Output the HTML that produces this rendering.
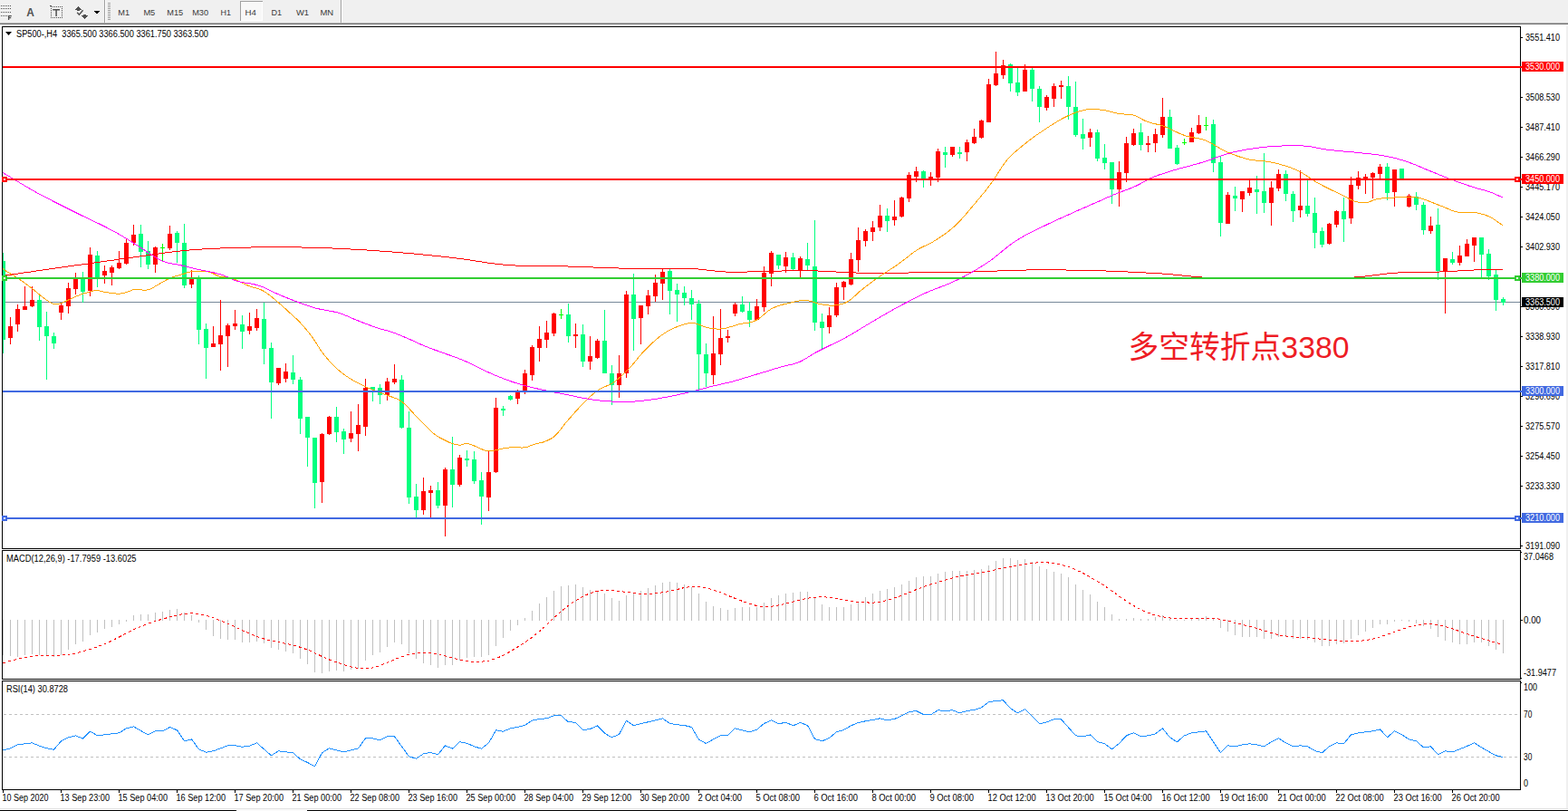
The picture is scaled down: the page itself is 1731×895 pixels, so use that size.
<!DOCTYPE html><html><head><meta charset="utf-8"><title>SP500 H4</title><style>html,body{margin:0;padding:0}body{width:1731px;height:895px;overflow:hidden;background:#fff}svg{display:block}text{font-family:"Liberation Sans",sans-serif}</style></head><body>
<svg width="1731" height="895" viewBox="0 0 1731 895" shape-rendering="crispEdges">
<rect x="0" y="0" width="1731" height="895" fill="#ffffff"/>
<rect x="0" y="0" width="1731" height="29" fill="#f0f0f0"/>
<rect x="0" y="25" width="1731" height="1" fill="#b0b0b0"/>
<rect x="0" y="26" width="1731" height="1" fill="#707070"/>
<rect x="0" y="27" width="1731" height="2" fill="#ffffff"/>
<rect x="1729" y="29" width="2" height="866" fill="#f0f0f0"/>
<rect x="0" y="892" width="1731" height="1" fill="#e3e3e3"/>
<rect x="0" y="893" width="1731" height="2" fill="#fafafa"/>
<rect x="0" y="894" width="261" height="1" fill="#000"/>
<rect x="339" y="894" width="1392" height="1" fill="#000"/>
<rect x="1" y="6" width="1" height="1" fill="#505050"/>
<rect x="3" y="6" width="1" height="1" fill="#505050"/>
<rect x="5" y="6" width="1" height="1" fill="#505050"/>
<rect x="7" y="6" width="1" height="1" fill="#505050"/>
<rect x="9" y="6" width="1" height="1" fill="#505050"/>
<rect x="11" y="6" width="1" height="1" fill="#505050"/>
<rect x="1" y="9" width="1" height="1" fill="#505050"/>
<rect x="3" y="9" width="1" height="1" fill="#505050"/>
<rect x="5" y="9" width="1" height="1" fill="#505050"/>
<rect x="7" y="9" width="1" height="1" fill="#505050"/>
<rect x="9" y="9" width="1" height="1" fill="#505050"/>
<rect x="11" y="9" width="1" height="1" fill="#505050"/>
<rect x="1" y="13" width="1" height="1" fill="#505050"/>
<rect x="3" y="13" width="1" height="1" fill="#505050"/>
<rect x="5" y="13" width="1" height="1" fill="#505050"/>
<rect x="7" y="13" width="1" height="1" fill="#505050"/>
<rect x="9" y="13" width="1" height="1" fill="#505050"/>
<rect x="11" y="13" width="1" height="1" fill="#505050"/>
<rect x="1" y="17" width="1" height="1" fill="#505050"/>
<rect x="3" y="17" width="1" height="1" fill="#505050"/>
<rect x="5" y="17" width="1" height="1" fill="#505050"/>
<rect x="7" y="17" width="1" height="1" fill="#505050"/>
<path d="M9.6,17.6 H12.8 M9.6,19.6 H12.2 M9.6,17 V22" stroke="#505050" stroke-width="1.3" fill="none" shape-rendering="geometricPrecision"/>
<text x="29.3" y="18" font-size="12.5" font-weight="bold" fill="#505050" textLength="8.6" lengthAdjust="spacingAndGlyphs">A</text>
<rect x="56" y="7" width="1" height="1" fill="#505050"/>
<rect x="56" y="19" width="1" height="1" fill="#505050"/>
<rect x="58" y="7" width="1" height="1" fill="#505050"/>
<rect x="58" y="19" width="1" height="1" fill="#505050"/>
<rect x="60" y="7" width="1" height="1" fill="#505050"/>
<rect x="60" y="19" width="1" height="1" fill="#505050"/>
<rect x="62" y="7" width="1" height="1" fill="#505050"/>
<rect x="62" y="19" width="1" height="1" fill="#505050"/>
<rect x="64" y="7" width="1" height="1" fill="#505050"/>
<rect x="64" y="19" width="1" height="1" fill="#505050"/>
<rect x="66" y="7" width="1" height="1" fill="#505050"/>
<rect x="66" y="19" width="1" height="1" fill="#505050"/>
<rect x="68" y="7" width="1" height="1" fill="#505050"/>
<rect x="68" y="19" width="1" height="1" fill="#505050"/>
<rect x="56" y="7" width="1" height="1" fill="#505050"/>
<rect x="68" y="7" width="1" height="1" fill="#505050"/>
<rect x="56" y="9" width="1" height="1" fill="#505050"/>
<rect x="68" y="9" width="1" height="1" fill="#505050"/>
<rect x="56" y="11" width="1" height="1" fill="#505050"/>
<rect x="68" y="11" width="1" height="1" fill="#505050"/>
<rect x="56" y="13" width="1" height="1" fill="#505050"/>
<rect x="68" y="13" width="1" height="1" fill="#505050"/>
<rect x="56" y="15" width="1" height="1" fill="#505050"/>
<rect x="68" y="15" width="1" height="1" fill="#505050"/>
<rect x="56" y="17" width="1" height="1" fill="#505050"/>
<rect x="68" y="17" width="1" height="1" fill="#505050"/>
<rect x="56" y="19" width="1" height="1" fill="#505050"/>
<rect x="68" y="19" width="1" height="1" fill="#505050"/>
<rect x="55" y="6" width="2" height="1" fill="#505050"/>
<path d="M58.2,10.8 H66 M62.1,10.8 V18" stroke="#505050" stroke-width="1.5" fill="none" shape-rendering="geometricPrecision"/>
<rect x="86" y="7" width="1" height="1" fill="#505050"/>
<rect x="85" y="8" width="3" height="1" fill="#505050"/>
<rect x="84" y="9" width="5" height="1" fill="#505050"/>
<rect x="83" y="10" width="7" height="1" fill="#505050"/>
<rect x="85" y="11" width="3" height="1" fill="#505050"/>
<rect x="92" y="16" width="3" height="1" fill="#505050"/>
<rect x="90" y="17" width="7" height="1" fill="#505050"/>
<rect x="91" y="18" width="5" height="1" fill="#505050"/>
<rect x="92" y="19" width="3" height="1" fill="#505050"/>
<rect x="93" y="20" width="1" height="1" fill="#505050"/>
<path d="M85.2,13.8 L87.4,16.2 L91.6,11.2" stroke="#505050" stroke-width="1.5" fill="none" shape-rendering="geometricPrecision"/>
<rect x="104" y="12" width="6" height="1" fill="#000"/>
<rect x="105" y="13" width="4" height="1" fill="#000"/>
<rect x="106" y="14" width="2" height="1" fill="#000"/>
<rect x="115" y="0" width="1" height="25" fill="#a0a0a0"/>
<rect x="116" y="0" width="1" height="25" fill="#fff"/>
<rect x="119" y="3" width="3" height="1" fill="#a0a0a0"/>
<rect x="119" y="5" width="3" height="1" fill="#a0a0a0"/>
<rect x="119" y="7" width="3" height="1" fill="#a0a0a0"/>
<rect x="119" y="9" width="3" height="1" fill="#a0a0a0"/>
<rect x="119" y="11" width="3" height="1" fill="#a0a0a0"/>
<rect x="119" y="13" width="3" height="1" fill="#a0a0a0"/>
<rect x="119" y="15" width="3" height="1" fill="#a0a0a0"/>
<rect x="119" y="17" width="3" height="1" fill="#a0a0a0"/>
<rect x="119" y="19" width="3" height="1" fill="#a0a0a0"/>
<rect x="119" y="21" width="3" height="1" fill="#a0a0a0"/>
<rect x="376" y="0" width="1" height="25" fill="#a0a0a0"/>
<rect x="377" y="0" width="1" height="25" fill="#fff"/>
<rect x="265" y="1" width="25" height="22" fill="#f8f8f8"/>
<rect x="265" y="1" width="25" height="1" fill="#a0a0a0"/>
<rect x="265" y="1" width="1" height="22" fill="#a0a0a0"/>
<rect x="289" y="2" width="1" height="21" fill="#fff"/>
<rect x="266" y="22" width="24" height="1" fill="#fff"/>
<text x="130.3" y="17" font-size="9.8" fill="#3a3a3a" textLength="12.8" lengthAdjust="spacingAndGlyphs">M1</text>
<text x="158.4" y="17" font-size="9.8" fill="#3a3a3a" textLength="12.9" lengthAdjust="spacingAndGlyphs">M5</text>
<text x="184.3" y="17" font-size="9.8" fill="#3a3a3a" textLength="17.9" lengthAdjust="spacingAndGlyphs">M15</text>
<text x="212.2" y="17" font-size="9.8" fill="#3a3a3a" textLength="17.9" lengthAdjust="spacingAndGlyphs">M30</text>
<text x="243.5" y="17" font-size="9.8" fill="#3a3a3a" textLength="11.4" lengthAdjust="spacingAndGlyphs">H1</text>
<text x="270.4" y="17" font-size="9.8" fill="#3a3a3a" textLength="12.4" lengthAdjust="spacingAndGlyphs">H4</text>
<text x="299.5" y="17" font-size="9.8" fill="#3a3a3a" textLength="11.6" lengthAdjust="spacingAndGlyphs">D1</text>
<text x="327" y="17" font-size="9.8" fill="#3a3a3a" textLength="14.1" lengthAdjust="spacingAndGlyphs">W1</text>
<text x="353.5" y="17" font-size="9.8" fill="#3a3a3a" textLength="14.7" lengthAdjust="spacingAndGlyphs">MN</text>
<rect x="2" y="29" width="1677" height="1" fill="#000"/>
<rect x="2" y="29" width="1" height="843" fill="#000"/>
<rect x="1678" y="29" width="1" height="843" fill="#000"/>
<rect x="2" y="871" width="1677" height="1" fill="#000"/>
<rect x="2" y="605" width="1677" height="1" fill="#000"/>
<rect x="2" y="607" width="1677" height="1" fill="#000"/>
<rect x="2" y="749" width="1677" height="1" fill="#000"/>
<rect x="2" y="751" width="1677" height="1" fill="#000"/>
<rect x="2" y="606" width="1" height="1" fill="#fff"/>
<rect x="1678" y="606" width="1" height="1" fill="#fff"/>
<rect x="2" y="750" width="1" height="1" fill="#fff"/>
<rect x="1678" y="750" width="1" height="1" fill="#fff"/>
<defs><clipPath id="cm"><rect x="3" y="30" width="1675" height="575"/></clipPath><clipPath id="c2"><rect x="3" y="608" width="1675" height="141"/></clipPath><clipPath id="c3"><rect x="3" y="752" width="1675" height="119"/></clipPath></defs>
<g clip-path="url(#cm)">
<rect x="3" y="333" width="1676" height="1" fill="#778899"/>
<rect x="3" y="279" width="1" height="111" fill="#00ff7f"/>
<rect x="1" y="288" width="5" height="87" fill="#00ff7f"/>
<rect x="11" y="350" width="1" height="30" fill="#ff0000"/>
<rect x="9" y="360" width="5" height="13" fill="#ff0000"/>
<rect x="19" y="336" width="1" height="30" fill="#ff0000"/>
<rect x="17" y="341" width="5" height="17" fill="#ff0000"/>
<rect x="27" y="316" width="1" height="26" fill="#ff0000"/>
<rect x="25" y="338" width="5" height="4" fill="#ff0000"/>
<rect x="35" y="316" width="1" height="23" fill="#ff0000"/>
<rect x="33" y="331" width="5" height="7" fill="#ff0000"/>
<rect x="43" y="326" width="1" height="50" fill="#00ff7f"/>
<rect x="41" y="331" width="5" height="30" fill="#00ff7f"/>
<rect x="51" y="344" width="1" height="75" fill="#00ff7f"/>
<rect x="49" y="360" width="5" height="11" fill="#00ff7f"/>
<rect x="59" y="367" width="1" height="18" fill="#00ff7f"/>
<rect x="57" y="371" width="5" height="8" fill="#00ff7f"/>
<rect x="67" y="335" width="1" height="18" fill="#ff0000"/>
<rect x="65" y="337" width="5" height="8" fill="#ff0000"/>
<rect x="75" y="312" width="1" height="34" fill="#ff0000"/>
<rect x="73" y="318" width="5" height="20" fill="#ff0000"/>
<rect x="83" y="301" width="1" height="24" fill="#ff0000"/>
<rect x="81" y="308" width="5" height="11" fill="#ff0000"/>
<rect x="91" y="300" width="1" height="34" fill="#00ff7f"/>
<rect x="89" y="307" width="5" height="15" fill="#00ff7f"/>
<rect x="99" y="273" width="1" height="54" fill="#ff0000"/>
<rect x="97" y="281" width="5" height="40" fill="#ff0000"/>
<rect x="107" y="277" width="1" height="40" fill="#00ff7f"/>
<rect x="105" y="282" width="5" height="25" fill="#00ff7f"/>
<rect x="115" y="293" width="1" height="20" fill="#ff0000"/>
<rect x="113" y="299" width="5" height="5" fill="#ff0000"/>
<rect x="123" y="293" width="1" height="22" fill="#ff0000"/>
<rect x="121" y="295" width="5" height="6" fill="#ff0000"/>
<rect x="131" y="277" width="1" height="20" fill="#ff0000"/>
<rect x="129" y="290" width="5" height="6" fill="#ff0000"/>
<rect x="139" y="263" width="1" height="29" fill="#ff0000"/>
<rect x="137" y="268" width="5" height="23" fill="#ff0000"/>
<rect x="147" y="248" width="1" height="23" fill="#ff0000"/>
<rect x="145" y="259" width="5" height="9" fill="#ff0000"/>
<rect x="155" y="248" width="1" height="47" fill="#00ff7f"/>
<rect x="153" y="258" width="5" height="20" fill="#00ff7f"/>
<rect x="163" y="266" width="1" height="31" fill="#00ff7f"/>
<rect x="161" y="277" width="5" height="15" fill="#00ff7f"/>
<rect x="171" y="272" width="1" height="29" fill="#ff0000"/>
<rect x="169" y="273" width="5" height="19" fill="#ff0000"/>
<rect x="179" y="269" width="1" height="20" fill="#00ff00"/>
<rect x="177" y="273" width="5" height="1" fill="#00ff00"/>
<rect x="187" y="249" width="1" height="27" fill="#ff0000"/>
<rect x="185" y="258" width="5" height="16" fill="#ff0000"/>
<rect x="195" y="255" width="1" height="35" fill="#00ff7f"/>
<rect x="193" y="257" width="5" height="11" fill="#00ff7f"/>
<rect x="203" y="247" width="1" height="71" fill="#00ff7f"/>
<rect x="201" y="268" width="5" height="47" fill="#00ff7f"/>
<rect x="211" y="298" width="1" height="20" fill="#ff0000"/>
<rect x="209" y="308" width="5" height="6" fill="#ff0000"/>
<rect x="219" y="304" width="1" height="76" fill="#00ff7f"/>
<rect x="217" y="306" width="5" height="58" fill="#00ff7f"/>
<rect x="227" y="357" width="1" height="61" fill="#00ff7f"/>
<rect x="225" y="363" width="5" height="21" fill="#00ff7f"/>
<rect x="235" y="360" width="1" height="23" fill="#ff0000"/>
<rect x="233" y="379" width="5" height="4" fill="#ff0000"/>
<rect x="243" y="331" width="1" height="78" fill="#ff0000"/>
<rect x="241" y="370" width="5" height="10" fill="#ff0000"/>
<rect x="251" y="357" width="1" height="48" fill="#ff0000"/>
<rect x="249" y="359" width="5" height="12" fill="#ff0000"/>
<rect x="259" y="342" width="1" height="22" fill="#ff0000"/>
<rect x="257" y="357" width="5" height="3" fill="#ff0000"/>
<rect x="267" y="348" width="1" height="37" fill="#00ff7f"/>
<rect x="265" y="358" width="5" height="8" fill="#00ff7f"/>
<rect x="275" y="345" width="1" height="24" fill="#ff0000"/>
<rect x="273" y="360" width="5" height="5" fill="#ff0000"/>
<rect x="283" y="341" width="1" height="24" fill="#ff0000"/>
<rect x="281" y="351" width="5" height="11" fill="#ff0000"/>
<rect x="291" y="334" width="1" height="68" fill="#00ff7f"/>
<rect x="289" y="352" width="5" height="33" fill="#00ff7f"/>
<rect x="299" y="378" width="1" height="84" fill="#00ff7f"/>
<rect x="297" y="384" width="5" height="38" fill="#00ff7f"/>
<rect x="307" y="406" width="1" height="19" fill="#ff0000"/>
<rect x="305" y="406" width="5" height="17" fill="#ff0000"/>
<rect x="315" y="401" width="1" height="21" fill="#ff0000"/>
<rect x="313" y="410" width="5" height="8" fill="#ff0000"/>
<rect x="323" y="392" width="1" height="32" fill="#00ff7f"/>
<rect x="321" y="411" width="5" height="8" fill="#00ff7f"/>
<rect x="331" y="416" width="1" height="63" fill="#00ff7f"/>
<rect x="329" y="419" width="5" height="43" fill="#00ff7f"/>
<rect x="339" y="460" width="1" height="55" fill="#00ff7f"/>
<rect x="337" y="460" width="5" height="23" fill="#00ff7f"/>
<rect x="347" y="483" width="1" height="78" fill="#00ff7f"/>
<rect x="345" y="483" width="5" height="50" fill="#00ff7f"/>
<rect x="355" y="478" width="1" height="77" fill="#ff0000"/>
<rect x="353" y="479" width="5" height="53" fill="#ff0000"/>
<rect x="363" y="459" width="1" height="21" fill="#ff0000"/>
<rect x="361" y="460" width="5" height="19" fill="#ff0000"/>
<rect x="371" y="449" width="1" height="39" fill="#00ff7f"/>
<rect x="369" y="460" width="5" height="17" fill="#00ff7f"/>
<rect x="379" y="473" width="1" height="28" fill="#00ff7f"/>
<rect x="377" y="476" width="5" height="9" fill="#00ff7f"/>
<rect x="387" y="454" width="1" height="34" fill="#ff0000"/>
<rect x="385" y="478" width="5" height="6" fill="#ff0000"/>
<rect x="395" y="446" width="1" height="52" fill="#ff0000"/>
<rect x="393" y="469" width="5" height="10" fill="#ff0000"/>
<rect x="403" y="418" width="1" height="63" fill="#ff0000"/>
<rect x="401" y="428" width="5" height="43" fill="#ff0000"/>
<rect x="411" y="427" width="1" height="16" fill="#00ff7f"/>
<rect x="409" y="427" width="5" height="3" fill="#00ff7f"/>
<rect x="419" y="424" width="1" height="22" fill="#00ff7f"/>
<rect x="417" y="428" width="5" height="8" fill="#00ff7f"/>
<rect x="427" y="417" width="1" height="25" fill="#ff0000"/>
<rect x="425" y="421" width="5" height="15" fill="#ff0000"/>
<rect x="435" y="402" width="1" height="22" fill="#ff0000"/>
<rect x="433" y="418" width="5" height="4" fill="#ff0000"/>
<rect x="443" y="414" width="1" height="59" fill="#00ff7f"/>
<rect x="441" y="419" width="5" height="53" fill="#00ff7f"/>
<rect x="451" y="454" width="1" height="102" fill="#00ff7f"/>
<rect x="449" y="472" width="5" height="77" fill="#00ff7f"/>
<rect x="459" y="534" width="1" height="37" fill="#00ff7f"/>
<rect x="457" y="548" width="5" height="15" fill="#00ff7f"/>
<rect x="467" y="527" width="1" height="41" fill="#ff0000"/>
<rect x="465" y="542" width="5" height="21" fill="#ff0000"/>
<rect x="475" y="536" width="1" height="35" fill="#ff0000"/>
<rect x="473" y="541" width="5" height="3" fill="#ff0000"/>
<rect x="483" y="532" width="1" height="29" fill="#00ff7f"/>
<rect x="481" y="541" width="5" height="17" fill="#00ff7f"/>
<rect x="491" y="516" width="1" height="76" fill="#ff0000"/>
<rect x="489" y="518" width="5" height="40" fill="#ff0000"/>
<rect x="499" y="482" width="1" height="78" fill="#00ff7f"/>
<rect x="497" y="518" width="5" height="17" fill="#00ff7f"/>
<rect x="507" y="502" width="1" height="35" fill="#ff0000"/>
<rect x="505" y="505" width="5" height="30" fill="#ff0000"/>
<rect x="515" y="497" width="1" height="18" fill="#00ff7f"/>
<rect x="513" y="506" width="5" height="2" fill="#00ff7f"/>
<rect x="523" y="498" width="1" height="36" fill="#00ff7f"/>
<rect x="521" y="507" width="5" height="24" fill="#00ff7f"/>
<rect x="531" y="521" width="1" height="58" fill="#00ff7f"/>
<rect x="529" y="530" width="5" height="18" fill="#00ff7f"/>
<rect x="539" y="497" width="1" height="67" fill="#ff0000"/>
<rect x="537" y="521" width="5" height="28" fill="#ff0000"/>
<rect x="547" y="439" width="1" height="83" fill="#ff0000"/>
<rect x="545" y="450" width="5" height="71" fill="#ff0000"/>
<rect x="555" y="448" width="1" height="11" fill="#00ff7f"/>
<rect x="553" y="451" width="5" height="2" fill="#00ff7f"/>
<rect x="563" y="436" width="1" height="6" fill="#00ff7f"/>
<rect x="561" y="437" width="5" height="4" fill="#00ff7f"/>
<rect x="571" y="430" width="1" height="16" fill="#ff0000"/>
<rect x="569" y="432" width="5" height="8" fill="#ff0000"/>
<rect x="579" y="408" width="1" height="27" fill="#ff0000"/>
<rect x="577" y="412" width="5" height="20" fill="#ff0000"/>
<rect x="587" y="381" width="1" height="39" fill="#ff0000"/>
<rect x="585" y="383" width="5" height="31" fill="#ff0000"/>
<rect x="595" y="360" width="1" height="39" fill="#ff0000"/>
<rect x="593" y="374" width="5" height="10" fill="#ff0000"/>
<rect x="603" y="354" width="1" height="30" fill="#ff0000"/>
<rect x="601" y="367" width="5" height="8" fill="#ff0000"/>
<rect x="611" y="345" width="1" height="26" fill="#ff0000"/>
<rect x="609" y="346" width="5" height="22" fill="#ff0000"/>
<rect x="619" y="341" width="1" height="11" fill="#00ff00"/>
<rect x="617" y="347" width="5" height="1" fill="#00ff00"/>
<rect x="627" y="335" width="1" height="43" fill="#00ff7f"/>
<rect x="625" y="347" width="5" height="24" fill="#00ff7f"/>
<rect x="635" y="357" width="1" height="27" fill="#ff0000"/>
<rect x="633" y="369" width="5" height="2" fill="#ff0000"/>
<rect x="643" y="358" width="1" height="47" fill="#00ff7f"/>
<rect x="641" y="369" width="5" height="30" fill="#00ff7f"/>
<rect x="651" y="371" width="1" height="37" fill="#ff0000"/>
<rect x="649" y="393" width="5" height="6" fill="#ff0000"/>
<rect x="659" y="374" width="1" height="22" fill="#ff0000"/>
<rect x="657" y="376" width="5" height="19" fill="#ff0000"/>
<rect x="667" y="342" width="1" height="70" fill="#00ff7f"/>
<rect x="665" y="376" width="5" height="36" fill="#00ff7f"/>
<rect x="675" y="403" width="1" height="44" fill="#00ff7f"/>
<rect x="673" y="412" width="5" height="13" fill="#00ff7f"/>
<rect x="683" y="392" width="1" height="47" fill="#ff0000"/>
<rect x="681" y="412" width="5" height="13" fill="#ff0000"/>
<rect x="691" y="321" width="1" height="96" fill="#ff0000"/>
<rect x="689" y="325" width="5" height="87" fill="#ff0000"/>
<rect x="699" y="302" width="1" height="85" fill="#00ff7f"/>
<rect x="697" y="325" width="5" height="27" fill="#00ff7f"/>
<rect x="707" y="337" width="1" height="43" fill="#ff0000"/>
<rect x="705" y="337" width="5" height="14" fill="#ff0000"/>
<rect x="715" y="320" width="1" height="27" fill="#ff0000"/>
<rect x="713" y="326" width="5" height="12" fill="#ff0000"/>
<rect x="723" y="303" width="1" height="30" fill="#ff0000"/>
<rect x="721" y="312" width="5" height="15" fill="#ff0000"/>
<rect x="731" y="296" width="1" height="35" fill="#ff0000"/>
<rect x="729" y="300" width="5" height="13" fill="#ff0000"/>
<rect x="739" y="297" width="1" height="50" fill="#00ff7f"/>
<rect x="737" y="299" width="5" height="22" fill="#00ff7f"/>
<rect x="747" y="313" width="1" height="42" fill="#00ff7f"/>
<rect x="745" y="320" width="5" height="5" fill="#00ff7f"/>
<rect x="755" y="316" width="1" height="21" fill="#00ff7f"/>
<rect x="753" y="323" width="5" height="6" fill="#00ff7f"/>
<rect x="763" y="320" width="1" height="33" fill="#00ff7f"/>
<rect x="761" y="329" width="5" height="7" fill="#00ff7f"/>
<rect x="771" y="331" width="1" height="100" fill="#00ff7f"/>
<rect x="769" y="335" width="5" height="56" fill="#00ff7f"/>
<rect x="779" y="379" width="1" height="48" fill="#00ff7f"/>
<rect x="777" y="391" width="5" height="21" fill="#00ff7f"/>
<rect x="787" y="349" width="1" height="75" fill="#ff0000"/>
<rect x="785" y="390" width="5" height="24" fill="#ff0000"/>
<rect x="795" y="341" width="1" height="62" fill="#ff0000"/>
<rect x="793" y="373" width="5" height="18" fill="#ff0000"/>
<rect x="803" y="364" width="1" height="14" fill="#ff0000"/>
<rect x="801" y="371" width="5" height="2" fill="#ff0000"/>
<rect x="811" y="334" width="1" height="15" fill="#ff0000"/>
<rect x="809" y="336" width="5" height="10" fill="#ff0000"/>
<rect x="819" y="327" width="1" height="18" fill="#00ff7f"/>
<rect x="817" y="336" width="5" height="8" fill="#00ff7f"/>
<rect x="827" y="333" width="1" height="28" fill="#00ff7f"/>
<rect x="825" y="343" width="5" height="10" fill="#00ff7f"/>
<rect x="835" y="330" width="1" height="24" fill="#ff0000"/>
<rect x="833" y="338" width="5" height="15" fill="#ff0000"/>
<rect x="843" y="294" width="1" height="50" fill="#ff0000"/>
<rect x="841" y="301" width="5" height="38" fill="#ff0000"/>
<rect x="851" y="277" width="1" height="39" fill="#ff0000"/>
<rect x="849" y="279" width="5" height="23" fill="#ff0000"/>
<rect x="859" y="281" width="1" height="16" fill="#00ff7f"/>
<rect x="857" y="281" width="5" height="12" fill="#00ff7f"/>
<rect x="867" y="278" width="1" height="23" fill="#ff0000"/>
<rect x="865" y="284" width="5" height="10" fill="#ff0000"/>
<rect x="875" y="279" width="1" height="19" fill="#00ff7f"/>
<rect x="873" y="284" width="5" height="13" fill="#00ff7f"/>
<rect x="883" y="283" width="1" height="23" fill="#ff0000"/>
<rect x="881" y="285" width="5" height="13" fill="#ff0000"/>
<rect x="891" y="268" width="1" height="30" fill="#00ff7f"/>
<rect x="889" y="286" width="5" height="7" fill="#00ff7f"/>
<rect x="899" y="243" width="1" height="122" fill="#00ff7f"/>
<rect x="897" y="294" width="5" height="62" fill="#00ff7f"/>
<rect x="907" y="346" width="1" height="39" fill="#00ff7f"/>
<rect x="905" y="355" width="5" height="7" fill="#00ff7f"/>
<rect x="915" y="339" width="1" height="29" fill="#ff0000"/>
<rect x="913" y="348" width="5" height="13" fill="#ff0000"/>
<rect x="923" y="312" width="1" height="38" fill="#ff0000"/>
<rect x="921" y="317" width="5" height="31" fill="#ff0000"/>
<rect x="931" y="310" width="1" height="21" fill="#ff0000"/>
<rect x="929" y="311" width="5" height="6" fill="#ff0000"/>
<rect x="939" y="279" width="1" height="36" fill="#ff0000"/>
<rect x="937" y="286" width="5" height="28" fill="#ff0000"/>
<rect x="947" y="251" width="1" height="49" fill="#ff0000"/>
<rect x="945" y="265" width="5" height="22" fill="#ff0000"/>
<rect x="955" y="253" width="1" height="19" fill="#ff0000"/>
<rect x="953" y="255" width="5" height="11" fill="#ff0000"/>
<rect x="963" y="244" width="1" height="22" fill="#ff0000"/>
<rect x="961" y="251" width="5" height="5" fill="#ff0000"/>
<rect x="971" y="226" width="1" height="29" fill="#ff0000"/>
<rect x="969" y="238" width="5" height="13" fill="#ff0000"/>
<rect x="979" y="230" width="1" height="26" fill="#00ff7f"/>
<rect x="977" y="238" width="5" height="6" fill="#00ff7f"/>
<rect x="987" y="221" width="1" height="28" fill="#ff0000"/>
<rect x="985" y="239" width="5" height="4" fill="#ff0000"/>
<rect x="995" y="217" width="1" height="23" fill="#ff0000"/>
<rect x="993" y="218" width="5" height="21" fill="#ff0000"/>
<rect x="1003" y="190" width="1" height="33" fill="#ff0000"/>
<rect x="1001" y="193" width="5" height="26" fill="#ff0000"/>
<rect x="1011" y="184" width="1" height="17" fill="#ff0000"/>
<rect x="1009" y="189" width="5" height="6" fill="#ff0000"/>
<rect x="1019" y="188" width="1" height="19" fill="#00ff7f"/>
<rect x="1017" y="189" width="5" height="8" fill="#00ff7f"/>
<rect x="1027" y="190" width="1" height="15" fill="#ff0000"/>
<rect x="1025" y="195" width="5" height="4" fill="#ff0000"/>
<rect x="1035" y="164" width="1" height="37" fill="#ff0000"/>
<rect x="1033" y="167" width="5" height="29" fill="#ff0000"/>
<rect x="1043" y="162" width="1" height="23" fill="#00ff7f"/>
<rect x="1041" y="168" width="5" height="3" fill="#00ff7f"/>
<rect x="1051" y="162" width="1" height="11" fill="#ff0000"/>
<rect x="1049" y="162" width="5" height="9" fill="#ff0000"/>
<rect x="1059" y="162" width="1" height="13" fill="#00ff7f"/>
<rect x="1057" y="168" width="5" height="2" fill="#00ff7f"/>
<rect x="1067" y="154" width="1" height="24" fill="#ff0000"/>
<rect x="1065" y="157" width="5" height="11" fill="#ff0000"/>
<rect x="1075" y="142" width="1" height="17" fill="#ff0000"/>
<rect x="1073" y="151" width="5" height="7" fill="#ff0000"/>
<rect x="1083" y="132" width="1" height="21" fill="#ff0000"/>
<rect x="1081" y="133" width="5" height="19" fill="#ff0000"/>
<rect x="1091" y="87" width="1" height="48" fill="#ff0000"/>
<rect x="1089" y="93" width="5" height="42" fill="#ff0000"/>
<rect x="1099" y="57" width="1" height="38" fill="#ff0000"/>
<rect x="1097" y="81" width="5" height="13" fill="#ff0000"/>
<rect x="1107" y="66" width="1" height="21" fill="#ff0000"/>
<rect x="1105" y="72" width="5" height="11" fill="#ff0000"/>
<rect x="1115" y="70" width="1" height="31" fill="#00ff7f"/>
<rect x="1113" y="71" width="5" height="21" fill="#00ff7f"/>
<rect x="1123" y="75" width="1" height="31" fill="#00ff7f"/>
<rect x="1121" y="91" width="5" height="11" fill="#00ff7f"/>
<rect x="1131" y="71" width="1" height="30" fill="#ff0000"/>
<rect x="1129" y="77" width="5" height="24" fill="#ff0000"/>
<rect x="1139" y="75" width="1" height="37" fill="#00ff7f"/>
<rect x="1137" y="77" width="5" height="21" fill="#00ff7f"/>
<rect x="1147" y="95" width="1" height="40" fill="#00ff7f"/>
<rect x="1145" y="98" width="5" height="20" fill="#00ff7f"/>
<rect x="1155" y="105" width="1" height="17" fill="#ff0000"/>
<rect x="1153" y="107" width="5" height="12" fill="#ff0000"/>
<rect x="1163" y="92" width="1" height="26" fill="#ff0000"/>
<rect x="1161" y="95" width="5" height="14" fill="#ff0000"/>
<rect x="1171" y="89" width="1" height="20" fill="#ff0000"/>
<rect x="1169" y="94" width="5" height="2" fill="#ff0000"/>
<rect x="1179" y="84" width="1" height="48" fill="#00ff7f"/>
<rect x="1177" y="95" width="5" height="23" fill="#00ff7f"/>
<rect x="1187" y="90" width="1" height="61" fill="#00ff7f"/>
<rect x="1185" y="118" width="5" height="31" fill="#00ff7f"/>
<rect x="1195" y="131" width="1" height="34" fill="#00ff7f"/>
<rect x="1193" y="148" width="5" height="5" fill="#00ff7f"/>
<rect x="1203" y="142" width="1" height="20" fill="#ff0000"/>
<rect x="1201" y="146" width="5" height="6" fill="#ff0000"/>
<rect x="1211" y="143" width="1" height="35" fill="#00ff7f"/>
<rect x="1209" y="146" width="5" height="29" fill="#00ff7f"/>
<rect x="1219" y="159" width="1" height="28" fill="#00ff7f"/>
<rect x="1217" y="174" width="5" height="6" fill="#00ff7f"/>
<rect x="1227" y="179" width="1" height="46" fill="#00ff7f"/>
<rect x="1225" y="179" width="5" height="30" fill="#00ff7f"/>
<rect x="1235" y="178" width="1" height="50" fill="#ff0000"/>
<rect x="1233" y="190" width="5" height="19" fill="#ff0000"/>
<rect x="1243" y="151" width="1" height="50" fill="#ff0000"/>
<rect x="1241" y="158" width="5" height="33" fill="#ff0000"/>
<rect x="1251" y="142" width="1" height="19" fill="#ff0000"/>
<rect x="1249" y="147" width="5" height="13" fill="#ff0000"/>
<rect x="1259" y="136" width="1" height="30" fill="#00ff7f"/>
<rect x="1257" y="146" width="5" height="14" fill="#00ff7f"/>
<rect x="1267" y="150" width="1" height="18" fill="#ff0000"/>
<rect x="1265" y="158" width="5" height="2" fill="#ff0000"/>
<rect x="1275" y="142" width="1" height="26" fill="#ff0000"/>
<rect x="1273" y="148" width="5" height="10" fill="#ff0000"/>
<rect x="1283" y="108" width="1" height="44" fill="#ff0000"/>
<rect x="1281" y="129" width="5" height="20" fill="#ff0000"/>
<rect x="1291" y="121" width="1" height="43" fill="#00ff7f"/>
<rect x="1289" y="129" width="5" height="35" fill="#00ff7f"/>
<rect x="1299" y="160" width="1" height="22" fill="#00ff7f"/>
<rect x="1297" y="163" width="5" height="18" fill="#00ff7f"/>
<rect x="1307" y="153" width="1" height="7" fill="#00ff00"/>
<rect x="1305" y="157" width="5" height="1" fill="#00ff00"/>
<rect x="1315" y="141" width="1" height="16" fill="#ff0000"/>
<rect x="1313" y="146" width="5" height="11" fill="#ff0000"/>
<rect x="1323" y="127" width="1" height="21" fill="#ff0000"/>
<rect x="1321" y="138" width="5" height="9" fill="#ff0000"/>
<rect x="1331" y="129" width="1" height="15" fill="#00ff00"/>
<rect x="1329" y="138" width="5" height="1" fill="#00ff00"/>
<rect x="1339" y="132" width="1" height="58" fill="#00ff7f"/>
<rect x="1337" y="137" width="5" height="43" fill="#00ff7f"/>
<rect x="1347" y="173" width="1" height="88" fill="#00ff7f"/>
<rect x="1345" y="179" width="5" height="67" fill="#00ff7f"/>
<rect x="1355" y="212" width="1" height="35" fill="#ff0000"/>
<rect x="1353" y="215" width="5" height="32" fill="#ff0000"/>
<rect x="1363" y="206" width="1" height="27" fill="#00ff7f"/>
<rect x="1361" y="216" width="5" height="3" fill="#00ff7f"/>
<rect x="1371" y="211" width="1" height="23" fill="#ff0000"/>
<rect x="1369" y="211" width="5" height="9" fill="#ff0000"/>
<rect x="1379" y="199" width="1" height="17" fill="#ff0000"/>
<rect x="1377" y="207" width="5" height="6" fill="#ff0000"/>
<rect x="1387" y="194" width="1" height="42" fill="#00ff7f"/>
<rect x="1385" y="209" width="5" height="3" fill="#00ff7f"/>
<rect x="1395" y="169" width="1" height="66" fill="#00ff7f"/>
<rect x="1393" y="211" width="5" height="13" fill="#00ff7f"/>
<rect x="1403" y="200" width="1" height="49" fill="#ff0000"/>
<rect x="1401" y="207" width="5" height="17" fill="#ff0000"/>
<rect x="1411" y="187" width="1" height="24" fill="#ff0000"/>
<rect x="1409" y="192" width="5" height="16" fill="#ff0000"/>
<rect x="1419" y="188" width="1" height="34" fill="#00ff7f"/>
<rect x="1417" y="192" width="5" height="22" fill="#00ff7f"/>
<rect x="1427" y="211" width="1" height="34" fill="#00ff7f"/>
<rect x="1425" y="214" width="5" height="19" fill="#00ff7f"/>
<rect x="1435" y="188" width="1" height="52" fill="#ff0000"/>
<rect x="1433" y="227" width="5" height="5" fill="#ff0000"/>
<rect x="1443" y="199" width="1" height="40" fill="#00ff7f"/>
<rect x="1441" y="227" width="5" height="9" fill="#00ff7f"/>
<rect x="1451" y="218" width="1" height="56" fill="#00ff7f"/>
<rect x="1449" y="235" width="5" height="22" fill="#00ff7f"/>
<rect x="1459" y="251" width="1" height="22" fill="#00ff7f"/>
<rect x="1457" y="255" width="5" height="15" fill="#00ff7f"/>
<rect x="1467" y="246" width="1" height="24" fill="#ff0000"/>
<rect x="1465" y="247" width="5" height="22" fill="#ff0000"/>
<rect x="1475" y="232" width="1" height="19" fill="#ff0000"/>
<rect x="1473" y="233" width="5" height="15" fill="#ff0000"/>
<rect x="1483" y="218" width="1" height="49" fill="#00ff7f"/>
<rect x="1481" y="233" width="5" height="9" fill="#00ff7f"/>
<rect x="1491" y="195" width="1" height="52" fill="#ff0000"/>
<rect x="1489" y="204" width="5" height="37" fill="#ff0000"/>
<rect x="1499" y="189" width="1" height="20" fill="#ff0000"/>
<rect x="1497" y="196" width="5" height="9" fill="#ff0000"/>
<rect x="1507" y="192" width="1" height="22" fill="#ff0000"/>
<rect x="1505" y="195" width="5" height="2" fill="#ff0000"/>
<rect x="1515" y="190" width="1" height="29" fill="#ff0000"/>
<rect x="1513" y="191" width="5" height="5" fill="#ff0000"/>
<rect x="1523" y="181" width="1" height="16" fill="#ff0000"/>
<rect x="1521" y="184" width="5" height="8" fill="#ff0000"/>
<rect x="1531" y="180" width="1" height="41" fill="#00ff7f"/>
<rect x="1529" y="184" width="5" height="29" fill="#00ff7f"/>
<rect x="1539" y="187" width="1" height="41" fill="#ff0000"/>
<rect x="1537" y="187" width="5" height="25" fill="#ff0000"/>
<rect x="1547" y="186" width="1" height="11" fill="#00ff7f"/>
<rect x="1545" y="186" width="5" height="11" fill="#00ff7f"/>
<rect x="1555" y="214" width="1" height="15" fill="#ff0000"/>
<rect x="1553" y="216" width="5" height="12" fill="#ff0000"/>
<rect x="1563" y="212" width="1" height="20" fill="#00ff7f"/>
<rect x="1561" y="217" width="5" height="9" fill="#00ff7f"/>
<rect x="1571" y="223" width="1" height="36" fill="#00ff7f"/>
<rect x="1569" y="226" width="5" height="28" fill="#00ff7f"/>
<rect x="1579" y="239" width="1" height="19" fill="#ff0000"/>
<rect x="1577" y="249" width="5" height="6" fill="#ff0000"/>
<rect x="1587" y="230" width="1" height="79" fill="#00ff7f"/>
<rect x="1585" y="248" width="5" height="51" fill="#00ff7f"/>
<rect x="1595" y="285" width="1" height="61" fill="#ff0000"/>
<rect x="1593" y="285" width="5" height="14" fill="#ff0000"/>
<rect x="1603" y="278" width="1" height="14" fill="#00ff7f"/>
<rect x="1601" y="286" width="5" height="4" fill="#00ff7f"/>
<rect x="1611" y="271" width="1" height="22" fill="#ff0000"/>
<rect x="1609" y="282" width="5" height="8" fill="#ff0000"/>
<rect x="1619" y="264" width="1" height="19" fill="#ff0000"/>
<rect x="1617" y="269" width="5" height="14" fill="#ff0000"/>
<rect x="1627" y="262" width="1" height="27" fill="#ff0000"/>
<rect x="1625" y="262" width="5" height="9" fill="#ff0000"/>
<rect x="1635" y="262" width="1" height="44" fill="#00ff7f"/>
<rect x="1633" y="262" width="5" height="19" fill="#00ff7f"/>
<rect x="1643" y="275" width="1" height="34" fill="#00ff7f"/>
<rect x="1641" y="280" width="5" height="25" fill="#00ff7f"/>
<rect x="1651" y="298" width="1" height="45" fill="#00ff7f"/>
<rect x="1649" y="303" width="5" height="28" fill="#00ff7f"/>
<rect x="1659" y="328" width="1" height="9" fill="#00ff7f"/>
<rect x="1657" y="330" width="5" height="4" fill="#00ff7f"/>
</g>
<g clip-path="url(#cm)"><polyline fill="none" stroke="#ff0000" stroke-width="1" points="3.0,304.5 5.0,304.2 7.0,303.9 9.0,303.6 11.0,303.3 13.0,303.0 15.0,302.7 17.0,302.4 19.0,302.1 21.0,301.8 23.0,301.5 25.0,301.2 27.0,300.9 29.0,300.6 31.0,300.3 33.0,300.1 35.0,299.8 37.0,299.5 39.0,299.2 41.0,298.9 43.0,298.6 45.0,298.3 47.0,298.0 49.0,297.7 51.0,297.4 53.0,297.1 55.0,296.9 57.0,296.6 59.0,296.3 61.0,296.0 63.0,295.7 65.0,295.4 67.0,295.2 69.0,294.9 71.0,294.6 73.0,294.3 75.0,294.0 77.0,293.8 79.0,293.5 81.0,293.2 83.0,292.9 85.0,292.7 87.0,292.4 89.0,292.1 91.0,291.8 93.0,291.5 95.0,291.3 97.0,291.0 99.0,290.7 101.0,290.4 103.0,290.1 105.0,289.9 107.0,289.6 109.0,289.3 111.0,289.0 113.0,288.7 115.0,288.5 117.0,288.2 119.0,287.9 121.0,287.6 123.0,287.3 125.0,287.1 127.0,286.8 129.0,286.5 131.0,286.2 133.0,285.9 135.0,285.6 137.0,285.4 139.0,285.1 141.0,284.8 143.0,284.5 145.0,284.3 147.0,284.0 149.0,283.7 151.0,283.4 153.0,283.2 155.0,282.9 157.0,282.6 159.0,282.3 161.0,282.0 163.0,281.7 165.0,281.4 167.0,281.1 169.0,280.9 171.0,280.6 173.0,280.3 175.0,280.0 177.0,279.7 179.0,279.4 181.0,279.2 183.0,278.9 185.0,278.6 187.0,278.4 189.0,278.1 191.0,277.9 193.0,277.6 195.0,277.4 197.0,277.2 199.0,277.0 201.0,276.7 203.0,276.6 205.0,276.4 207.0,276.2 209.0,276.0 211.0,275.8 213.0,275.7 215.0,275.5 217.0,275.4 219.0,275.2 221.0,275.1 223.0,275.0 225.0,274.9 227.0,274.7 229.0,274.6 231.0,274.5 233.0,274.4 235.0,274.3 237.0,274.2 239.0,274.1 241.0,274.0 243.0,274.0 245.0,273.9 247.0,273.8 249.0,273.7 251.0,273.7 253.0,273.6 255.0,273.5 257.0,273.5 259.0,273.4 261.0,273.4 263.0,273.3 265.0,273.3 267.0,273.2 269.0,273.2 271.0,273.1 273.0,273.1 275.0,273.0 277.0,273.0 279.0,272.9 281.0,272.9 283.0,272.9 285.0,272.8 287.0,272.8 289.0,272.8 291.0,272.7 293.0,272.7 295.0,272.7 297.0,272.7 299.0,272.7 301.0,272.7 303.0,272.7 305.0,272.7 307.0,272.7 309.0,272.7 311.0,272.7 313.0,272.7 315.0,272.7 317.0,272.7 319.0,272.8 321.0,272.8 323.0,272.8 325.0,272.8 327.0,272.9 329.0,272.9 331.0,272.9 333.0,273.0 335.0,273.0 337.0,273.0 339.0,273.1 341.0,273.1 343.0,273.2 345.0,273.2 347.0,273.3 349.0,273.3 351.0,273.4 353.0,273.5 355.0,273.5 357.0,273.6 359.0,273.7 361.0,273.7 363.0,273.8 365.0,273.9 367.0,274.0 369.0,274.1 371.0,274.2 373.0,274.3 375.0,274.3 377.0,274.4 379.0,274.5 381.0,274.6 383.0,274.7 385.0,274.9 387.0,275.0 389.0,275.1 391.0,275.2 393.0,275.3 395.0,275.4 397.0,275.5 399.0,275.7 401.0,275.8 403.0,275.9 405.0,276.0 407.0,276.2 409.0,276.3 411.0,276.4 413.0,276.6 415.0,276.7 417.0,276.9 419.0,277.0 421.0,277.1 423.0,277.3 425.0,277.4 427.0,277.6 429.0,277.7 431.0,277.9 433.0,278.0 435.0,278.2 437.0,278.4 439.0,278.5 441.0,278.7 443.0,278.8 445.0,279.0 447.0,279.2 449.0,279.3 451.0,279.5 453.0,279.7 455.0,279.9 457.0,280.0 459.0,280.2 461.0,280.4 463.0,280.6 465.0,280.8 467.0,281.0 469.0,281.2 471.0,281.4 473.0,281.6 475.0,281.8 477.0,282.0 479.0,282.2 481.0,282.4 483.0,282.6 485.0,282.8 487.0,283.0 489.0,283.2 491.0,283.4 493.0,283.7 495.0,283.9 497.0,284.1 499.0,284.3 501.0,284.6 503.0,284.8 505.0,285.1 507.0,285.3 509.0,285.6 511.0,285.9 513.0,286.2 515.0,286.5 517.0,286.7 519.0,287.1 521.0,287.4 523.0,287.7 525.0,288.0 527.0,288.3 529.0,288.6 531.0,288.9 533.0,289.2 535.0,289.5 537.0,289.8 539.0,290.1 541.0,290.4 543.0,290.6 545.0,290.9 547.0,291.2 549.0,291.4 551.0,291.6 553.0,291.8 555.0,292.0 557.0,292.2 559.0,292.4 561.0,292.5 563.0,292.7 565.0,292.8 567.0,292.9 569.0,293.0 571.0,293.0 573.0,293.1 575.0,293.2 577.0,293.2 579.0,293.2 581.0,293.3 583.0,293.3 585.0,293.3 587.0,293.3 589.0,293.3 591.0,293.3 593.0,293.3 595.0,293.3 597.0,293.3 599.0,293.3 601.0,293.4 603.0,293.4 605.0,293.4 607.0,293.4 609.0,293.5 611.0,293.5 613.0,293.6 615.0,293.6 617.0,293.7 619.0,293.7 621.0,293.8 623.0,293.9 625.0,293.9 627.0,294.0 629.0,294.1 631.0,294.1 633.0,294.2 635.0,294.3 637.0,294.3 639.0,294.4 641.0,294.5 643.0,294.6 645.0,294.6 647.0,294.7 649.0,294.8 651.0,294.9 653.0,294.9 655.0,295.0 657.0,295.1 659.0,295.2 661.0,295.2 663.0,295.3 665.0,295.4 667.0,295.5 669.0,295.5 671.0,295.6 673.0,295.7 675.0,295.7 677.0,295.8 679.0,295.8 681.0,295.9 683.0,296.0 685.0,296.0 687.0,296.1 689.0,296.1 691.0,296.2 693.0,296.2 695.0,296.2 697.0,296.3 699.0,296.3 701.0,296.3 703.0,296.3 705.0,296.3 707.0,296.3 709.0,296.3 711.0,296.3 713.0,296.3 715.0,296.3 717.0,296.2 719.0,296.2 721.0,296.2 723.0,296.2 725.0,296.1 727.0,296.1 729.0,296.1 731.0,296.0 733.0,296.0 735.0,296.0 737.0,296.0 739.0,296.0 741.0,296.0 743.0,296.0 745.0,296.0 747.0,296.0 749.0,296.0 751.0,296.1 753.0,296.1 755.0,296.1 757.0,296.2 759.0,296.3 761.0,296.4 763.0,296.5 765.0,296.6 767.0,296.7 769.0,296.9 771.0,297.0 773.0,297.2 775.0,297.4 777.0,297.6 779.0,297.9 781.0,298.1 783.0,298.3 785.0,298.6 787.0,298.8 789.0,299.0 791.0,299.2 793.0,299.4 795.0,299.6 797.0,299.8 799.0,299.9 801.0,300.0 803.0,300.1 805.0,300.2 807.0,300.2 809.0,300.2 811.0,300.3 813.0,300.2 815.0,300.2 817.0,300.2 819.0,300.2 821.0,300.1 823.0,300.0 825.0,300.0 827.0,299.9 829.0,299.8 831.0,299.7 833.0,299.7 835.0,299.6 837.0,299.5 839.0,299.5 841.0,299.4 843.0,299.3 845.0,299.3 847.0,299.3 849.0,299.2 851.0,299.2 853.0,299.2 855.0,299.1 857.0,299.1 859.0,299.1 861.0,299.0 863.0,299.0 865.0,298.9 867.0,298.9 869.0,298.9 871.0,298.8 873.0,298.8 875.0,298.8 877.0,298.7 879.0,298.7 881.0,298.7 883.0,298.7 885.0,298.7 887.0,298.7 889.0,298.7 891.0,298.7 893.0,298.7 895.0,298.7 897.0,298.8 899.0,298.8 901.0,298.9 903.0,299.0 905.0,299.0 907.0,299.1 909.0,299.2 911.0,299.3 913.0,299.4 915.0,299.5 917.0,299.6 919.0,299.8 921.0,299.9 923.0,300.0 925.0,300.1 927.0,300.2 929.0,300.3 931.0,300.4 933.0,300.5 935.0,300.6 937.0,300.7 939.0,300.8 941.0,300.9 943.0,300.9 945.0,301.0 947.0,301.0 949.0,301.1 951.0,301.1 953.0,301.1 955.0,301.1 957.0,301.1 959.0,301.2 961.0,301.2 963.0,301.2 965.0,301.2 967.0,301.2 969.0,301.1 971.0,301.1 973.0,301.1 975.0,301.1 977.0,301.1 979.0,301.1 981.0,301.1 983.0,301.0 985.0,301.0 987.0,301.0 989.0,301.0 991.0,301.0 993.0,301.0 995.0,301.0 997.0,301.0 999.0,301.0 1001.0,301.0 1003.0,301.0 1005.0,300.9 1007.0,300.9 1009.0,300.9 1011.0,300.9 1013.0,300.9 1015.0,300.9 1017.0,300.9 1019.0,300.9 1021.0,300.9 1023.0,300.9 1025.0,300.8 1027.0,300.8 1029.0,300.8 1031.0,300.8 1033.0,300.8 1035.0,300.7 1037.0,300.7 1039.0,300.7 1041.0,300.7 1043.0,300.6 1045.0,300.6 1047.0,300.6 1049.0,300.5 1051.0,300.5 1053.0,300.4 1055.0,300.4 1057.0,300.4 1059.0,300.3 1061.0,300.3 1063.0,300.2 1065.0,300.2 1067.0,300.1 1069.0,300.1 1071.0,300.0 1073.0,300.0 1075.0,299.9 1077.0,299.8 1079.0,299.8 1081.0,299.7 1083.0,299.7 1085.0,299.6 1087.0,299.5 1089.0,299.5 1091.0,299.4 1093.0,299.3 1095.0,299.2 1097.0,299.2 1099.0,299.1 1101.0,299.0 1103.0,298.9 1105.0,298.8 1107.0,298.7 1109.0,298.7 1111.0,298.6 1113.0,298.5 1115.0,298.4 1117.0,298.4 1119.0,298.3 1121.0,298.2 1123.0,298.2 1125.0,298.1 1127.0,298.1 1129.0,298.0 1131.0,298.0 1133.0,298.0 1135.0,297.9 1137.0,297.9 1139.0,297.9 1141.0,297.9 1143.0,297.8 1145.0,297.8 1147.0,297.8 1149.0,297.8 1151.0,297.8 1153.0,297.8 1155.0,297.8 1157.0,297.8 1159.0,297.8 1161.0,297.8 1163.0,297.8 1165.0,297.8 1167.0,297.9 1169.0,297.9 1171.0,297.9 1173.0,297.9 1175.0,297.9 1177.0,298.0 1179.0,298.0 1181.0,298.0 1183.0,298.0 1185.0,298.1 1187.0,298.1 1189.0,298.1 1191.0,298.2 1193.0,298.2 1195.0,298.3 1197.0,298.3 1199.0,298.3 1201.0,298.4 1203.0,298.4 1205.0,298.5 1207.0,298.6 1209.0,298.6 1211.0,298.7 1213.0,298.7 1215.0,298.8 1217.0,298.9 1219.0,298.9 1221.0,299.0 1223.0,299.1 1225.0,299.1 1227.0,299.2 1229.0,299.3 1231.0,299.4 1233.0,299.5 1235.0,299.5 1237.0,299.6 1239.0,299.7 1241.0,299.8 1243.0,299.9 1245.0,300.0 1247.0,300.1 1249.0,300.2 1251.0,300.3 1253.0,300.4 1255.0,300.5 1257.0,300.6 1259.0,300.7 1261.0,300.8 1263.0,300.9 1265.0,301.0 1267.0,301.1 1269.0,301.2 1271.0,301.3 1273.0,301.4 1275.0,301.5 1277.0,301.7 1279.0,301.8 1281.0,301.9 1283.0,302.0 1285.0,302.2 1287.0,302.3 1289.0,302.5 1291.0,302.6 1293.0,302.8 1295.0,303.0 1297.0,303.2 1299.0,303.4 1301.0,303.6 1303.0,303.8 1305.0,304.0 1307.0,304.2 1309.0,304.4 1311.0,304.6 1313.0,304.8 1315.0,305.0 1317.0,305.2 1319.0,305.4 1321.0,305.6 1323.0,305.7 1325.0,305.9 1327.0,306.0 1329.0,306.1 1331.0,306.2 1333.0,306.3 1335.0,306.4 1337.0,306.5 1339.0,306.5 1341.0,306.6 1343.0,306.7 1345.0,306.7 1347.0,306.8 1349.0,306.8 1351.0,306.8 1353.0,306.9 1355.0,306.9 1357.0,306.9 1359.0,307.0 1361.0,307.0 1363.0,307.0 1365.0,307.1 1367.0,307.1 1369.0,307.1 1371.0,307.1 1373.0,307.1 1375.0,307.1 1377.0,307.1 1379.0,307.1 1381.0,307.1 1383.0,307.1 1385.0,307.1 1387.0,307.0 1389.0,307.0 1391.0,307.0 1393.0,307.0 1395.0,307.0 1397.0,307.0 1399.0,307.0 1401.0,307.0 1403.0,307.0 1405.0,307.0 1407.0,307.0 1409.0,307.0 1411.0,307.0 1413.0,307.0 1415.0,307.0 1417.0,307.0 1419.0,307.0 1421.0,307.1 1423.0,307.1 1425.0,307.1 1427.0,307.1 1429.0,307.1 1431.0,307.1 1433.0,307.1 1435.0,307.1 1437.0,307.1 1439.0,307.1 1441.0,307.1 1443.0,307.1 1445.0,307.0 1447.0,307.0 1449.0,307.0 1451.0,307.0 1453.0,307.0 1455.0,307.0 1457.0,306.9 1459.0,306.9 1461.0,306.9 1463.0,306.9 1465.0,306.8 1467.0,306.8 1469.0,306.8 1471.0,306.7 1473.0,306.7 1475.0,306.6 1477.0,306.6 1479.0,306.5 1481.0,306.5 1483.0,306.4 1485.0,306.4 1487.0,306.3 1489.0,306.3 1491.0,306.2 1493.0,306.1 1495.0,306.0 1497.0,305.9 1499.0,305.8 1501.0,305.6 1503.0,305.4 1505.0,305.2 1507.0,305.0 1509.0,304.8 1511.0,304.6 1513.0,304.3 1515.0,304.0 1517.0,303.8 1519.0,303.5 1521.0,303.3 1523.0,303.0 1525.0,302.7 1527.0,302.5 1529.0,302.3 1531.0,302.0 1533.0,301.8 1535.0,301.6 1537.0,301.4 1539.0,301.3 1541.0,301.2 1543.0,301.0 1545.0,300.9 1547.0,300.8 1549.0,300.8 1551.0,300.7 1553.0,300.6 1555.0,300.6 1557.0,300.5 1559.0,300.5 1561.0,300.5 1563.0,300.4 1565.0,300.4 1567.0,300.4 1569.0,300.4 1571.0,300.4 1573.0,300.3 1575.0,300.3 1577.0,300.3 1579.0,300.3 1581.0,300.2 1583.0,300.2 1585.0,300.1 1587.0,300.1 1589.0,300.0 1591.0,299.9 1593.0,299.9 1595.0,299.8 1597.0,299.7 1599.0,299.6 1601.0,299.5 1603.0,299.3 1605.0,299.2 1607.0,299.1 1609.0,299.0 1611.0,298.9 1613.0,298.8 1615.0,298.6 1617.0,298.5 1619.0,298.4 1621.0,298.3 1623.0,298.2 1625.0,298.1 1627.0,298.0 1629.0,297.9 1631.0,297.8 1633.0,297.7 1635.0,297.6 1637.0,297.6 1639.0,297.5 1641.0,297.5 1643.0,297.4 1645.0,297.4 1647.0,297.4 1649.0,297.4 1651.0,297.3 1653.0,297.3 1655.0,297.3 1657.0,297.3 1659.0,297.2 1659.0,297.2"/><polyline fill="none" stroke="#ffa500" stroke-width="1" points="3.0,296.5 5.0,297.9 7.0,299.3 9.0,300.5 11.0,301.7 13.0,302.9 15.0,304.1 17.0,305.3 19.0,306.6 21.0,307.9 23.0,309.3 25.0,310.7 27.0,312.2 29.0,313.7 31.0,315.2 33.0,316.7 35.0,318.2 37.0,319.7 39.0,321.3 41.0,322.9 43.0,324.6 45.0,326.3 47.0,328.0 49.0,329.5 51.0,330.8 53.0,332.2 55.0,333.5 57.0,334.6 59.0,335.4 61.0,335.8 63.0,335.7 65.0,335.2 67.0,334.6 69.0,333.9 71.0,333.1 73.0,332.2 75.0,331.3 77.0,330.3 79.0,329.5 81.0,328.5 83.0,327.6 85.0,326.7 87.0,325.9 89.0,325.1 91.0,324.4 93.0,323.8 95.0,323.2 97.0,322.6 99.0,322.1 101.0,321.6 103.0,321.1 105.0,320.7 107.0,320.5 109.0,320.8 111.0,321.3 113.0,321.8 115.0,322.1 117.0,322.5 119.0,322.8 121.0,323.1 123.0,323.4 125.0,323.7 127.0,323.9 129.0,324.1 131.0,324.1 133.0,324.0 135.0,323.7 137.0,323.2 139.0,322.6 141.0,322.0 143.0,321.3 145.0,320.5 147.0,319.8 149.0,319.5 151.0,319.4 153.0,319.5 155.0,319.8 157.0,320.0 159.0,320.2 161.0,320.2 163.0,319.9 165.0,319.3 167.0,318.5 169.0,317.4 171.0,316.2 173.0,315.0 175.0,313.9 177.0,312.8 179.0,311.6 181.0,310.4 183.0,309.3 185.0,308.2 187.0,307.2 189.0,306.3 191.0,305.6 193.0,305.0 195.0,304.5 197.0,304.0 199.0,303.4 201.0,302.8 203.0,302.2 205.0,301.5 207.0,300.8 209.0,300.2 211.0,299.8 213.0,299.5 215.0,299.4 217.0,299.3 219.0,299.3 221.0,299.3 223.0,299.3 225.0,299.4 227.0,299.5 229.0,299.7 231.0,300.1 233.0,300.8 235.0,301.7 237.0,302.8 239.0,303.8 241.0,304.7 243.0,305.2 245.0,305.5 247.0,305.6 249.0,305.7 251.0,306.0 253.0,306.5 255.0,307.1 257.0,307.7 259.0,308.4 261.0,309.2 263.0,310.0 265.0,310.9 267.0,311.9 269.0,312.9 271.0,313.9 273.0,314.8 275.0,315.7 277.0,316.4 279.0,317.1 281.0,317.6 283.0,318.1 285.0,318.7 287.0,319.3 289.0,320.2 291.0,321.2 293.0,322.4 295.0,323.8 297.0,325.3 299.0,326.8 301.0,328.5 303.0,330.2 305.0,331.9 307.0,333.6 309.0,335.3 311.0,337.1 313.0,338.9 315.0,340.7 317.0,342.5 319.0,344.4 321.0,346.2 323.0,348.0 325.0,349.8 327.0,351.7 329.0,353.6 331.0,355.6 333.0,357.8 335.0,360.0 337.0,362.3 339.0,364.7 341.0,367.2 343.0,369.8 345.0,372.5 347.0,375.5 349.0,378.6 351.0,381.7 353.0,384.9 355.0,387.8 357.0,390.6 359.0,393.1 361.0,395.5 363.0,397.8 365.0,400.0 367.0,402.1 369.0,404.0 371.0,405.9 373.0,407.8 375.0,409.5 377.0,411.1 379.0,412.6 381.0,414.1 383.0,415.5 385.0,416.9 387.0,418.1 389.0,419.3 391.0,420.5 393.0,421.6 395.0,422.6 397.0,423.6 399.0,424.6 401.0,425.5 403.0,426.5 405.0,427.4 407.0,428.3 409.0,429.1 411.0,429.9 413.0,430.7 415.0,431.5 417.0,432.2 419.0,433.0 421.0,433.7 423.0,434.5 425.0,435.3 427.0,436.1 429.0,436.8 431.0,437.5 433.0,438.2 435.0,438.9 437.0,439.7 439.0,440.6 441.0,441.7 443.0,443.0 445.0,444.5 447.0,446.2 449.0,448.1 451.0,450.2 453.0,452.3 455.0,454.5 457.0,456.7 459.0,458.9 461.0,461.0 463.0,463.0 465.0,465.0 467.0,467.0 469.0,469.0 471.0,471.1 473.0,473.1 475.0,475.0 477.0,476.9 479.0,478.6 481.0,480.1 483.0,481.5 485.0,482.7 487.0,483.7 489.0,484.8 491.0,485.8 493.0,486.8 495.0,487.8 497.0,488.7 499.0,489.4 501.0,490.0 503.0,490.5 505.0,490.9 507.0,491.1 509.0,491.0 511.0,490.5 513.0,489.8 515.0,489.5 517.0,489.7 519.0,490.2 521.0,491.0 523.0,491.8 525.0,492.6 527.0,493.6 529.0,494.6 531.0,495.4 533.0,496.2 535.0,496.9 537.0,497.4 539.0,497.7 541.0,497.8 543.0,497.6 545.0,497.3 547.0,496.9 549.0,496.6 551.0,496.1 553.0,495.6 555.0,495.1 557.0,494.7 559.0,494.3 561.0,494.1 563.0,493.8 565.0,493.6 567.0,493.5 569.0,493.6 571.0,493.7 573.0,493.9 575.0,494.0 577.0,494.0 579.0,493.9 581.0,493.5 583.0,492.9 585.0,492.1 587.0,491.3 589.0,490.6 591.0,490.0 593.0,489.5 595.0,489.1 597.0,488.7 599.0,488.2 601.0,487.5 603.0,486.8 605.0,485.8 607.0,484.8 609.0,483.7 611.0,482.3 613.0,480.7 615.0,478.6 617.0,476.2 619.0,473.7 621.0,471.1 623.0,468.5 625.0,466.1 627.0,463.8 629.0,461.5 631.0,459.3 633.0,457.0 635.0,454.7 637.0,452.5 639.0,450.3 641.0,448.1 643.0,446.0 645.0,443.9 647.0,441.9 649.0,440.0 651.0,438.1 653.0,436.3 655.0,434.6 657.0,433.0 659.0,431.5 661.0,430.2 663.0,429.0 665.0,428.0 667.0,427.0 669.0,426.2 671.0,425.3 673.0,424.4 675.0,423.4 677.0,422.2 679.0,420.8 681.0,419.2 683.0,417.6 685.0,415.8 687.0,414.0 689.0,412.1 691.0,410.1 693.0,408.1 695.0,406.0 697.0,403.9 699.0,401.6 701.0,399.2 703.0,396.8 705.0,394.3 707.0,391.9 709.0,389.6 711.0,387.5 713.0,385.4 715.0,383.4 717.0,381.4 719.0,379.5 721.0,377.7 723.0,375.9 725.0,374.2 727.0,372.5 729.0,371.0 731.0,369.5 733.0,368.1 735.0,366.8 737.0,365.6 739.0,364.5 741.0,363.4 743.0,362.5 745.0,361.6 747.0,360.8 749.0,360.0 751.0,359.3 753.0,358.7 755.0,358.1 757.0,357.5 759.0,357.0 761.0,356.7 763.0,356.5 765.0,356.5 767.0,356.7 769.0,357.2 771.0,357.9 773.0,358.7 775.0,359.6 777.0,360.4 779.0,361.1 781.0,361.6 783.0,362.0 785.0,362.3 787.0,362.6 789.0,362.8 791.0,363.0 793.0,363.1 795.0,363.0 797.0,362.9 799.0,362.6 801.0,362.2 803.0,361.7 805.0,361.1 807.0,360.5 809.0,359.9 811.0,359.3 813.0,358.7 815.0,358.1 817.0,357.7 819.0,357.3 821.0,356.9 823.0,356.6 825.0,356.3 827.0,356.0 829.0,355.5 831.0,354.9 833.0,354.2 835.0,353.3 837.0,352.1 839.0,350.7 841.0,349.0 843.0,347.3 845.0,345.6 847.0,344.0 849.0,342.5 851.0,341.2 853.0,340.1 855.0,339.2 857.0,338.4 859.0,337.6 861.0,337.0 863.0,336.4 865.0,335.9 867.0,335.4 869.0,334.9 871.0,334.4 873.0,333.9 875.0,333.4 877.0,332.9 879.0,332.4 881.0,332.1 883.0,331.8 885.0,331.5 887.0,331.4 889.0,331.4 891.0,331.6 893.0,331.9 895.0,332.4 897.0,333.0 899.0,333.7 901.0,334.3 903.0,334.9 905.0,335.4 907.0,335.8 909.0,336.1 911.0,336.5 913.0,336.8 915.0,337.0 917.0,337.1 919.0,337.1 921.0,337.0 923.0,336.8 925.0,336.5 927.0,336.1 929.0,335.6 931.0,335.0 933.0,334.2 935.0,333.3 937.0,332.1 939.0,330.6 941.0,329.0 943.0,327.2 945.0,325.4 947.0,323.5 949.0,321.7 951.0,320.1 953.0,318.5 955.0,317.0 957.0,315.4 959.0,313.9 961.0,312.4 963.0,310.9 965.0,309.5 967.0,308.0 969.0,306.6 971.0,305.1 973.0,303.8 975.0,302.4 977.0,301.1 979.0,299.8 981.0,298.5 983.0,297.2 985.0,295.9 987.0,294.6 989.0,293.3 991.0,291.9 993.0,290.5 995.0,289.0 997.0,287.5 999.0,286.0 1001.0,284.4 1003.0,282.8 1005.0,281.2 1007.0,279.7 1009.0,278.2 1011.0,276.8 1013.0,275.5 1015.0,274.3 1017.0,273.2 1019.0,272.3 1021.0,271.3 1023.0,270.4 1025.0,269.4 1027.0,268.4 1029.0,267.4 1031.0,266.2 1033.0,265.0 1035.0,263.7 1037.0,262.4 1039.0,261.1 1041.0,259.7 1043.0,258.3 1045.0,256.9 1047.0,255.3 1049.0,253.7 1051.0,252.1 1053.0,250.3 1055.0,248.5 1057.0,246.5 1059.0,244.5 1061.0,242.4 1063.0,240.2 1065.0,237.9 1067.0,235.6 1069.0,233.2 1071.0,230.9 1073.0,228.5 1075.0,226.1 1077.0,223.7 1079.0,221.3 1081.0,219.0 1083.0,216.6 1085.0,214.1 1087.0,211.7 1089.0,209.1 1091.0,206.6 1093.0,203.9 1095.0,201.2 1097.0,198.3 1099.0,195.3 1101.0,192.2 1103.0,189.0 1105.0,185.8 1107.0,182.8 1109.0,180.0 1111.0,177.4 1113.0,175.0 1115.0,172.9 1117.0,170.9 1119.0,169.0 1121.0,167.3 1123.0,165.6 1125.0,164.0 1127.0,162.4 1129.0,160.7 1131.0,159.1 1133.0,157.5 1135.0,155.9 1137.0,154.3 1139.0,152.8 1141.0,151.4 1143.0,149.9 1145.0,148.5 1147.0,147.2 1149.0,145.8 1151.0,144.5 1153.0,143.1 1155.0,141.8 1157.0,140.5 1159.0,139.2 1161.0,137.9 1163.0,136.7 1165.0,135.4 1167.0,134.2 1169.0,133.0 1171.0,131.9 1173.0,130.8 1175.0,129.7 1177.0,128.8 1179.0,127.8 1181.0,126.9 1183.0,126.0 1185.0,125.2 1187.0,124.4 1189.0,123.7 1191.0,123.1 1193.0,122.5 1195.0,122.0 1197.0,121.5 1199.0,121.1 1201.0,120.7 1203.0,120.5 1205.0,120.4 1207.0,120.4 1209.0,120.4 1211.0,120.6 1213.0,120.8 1215.0,121.1 1217.0,121.4 1219.0,121.7 1221.0,122.0 1223.0,122.5 1225.0,123.0 1227.0,123.5 1229.0,124.0 1231.0,124.5 1233.0,125.0 1235.0,125.4 1237.0,125.7 1239.0,125.9 1241.0,126.0 1243.0,126.0 1245.0,126.1 1247.0,126.3 1249.0,126.5 1251.0,126.9 1253.0,127.5 1255.0,128.3 1257.0,129.4 1259.0,130.5 1261.0,131.7 1263.0,132.8 1265.0,133.7 1267.0,134.5 1269.0,135.1 1271.0,135.7 1273.0,136.2 1275.0,136.7 1277.0,137.1 1279.0,137.6 1281.0,138.1 1283.0,138.7 1285.0,139.4 1287.0,140.2 1289.0,141.1 1291.0,142.0 1293.0,142.9 1295.0,143.9 1297.0,144.9 1299.0,145.8 1301.0,146.8 1303.0,147.7 1305.0,148.5 1307.0,149.2 1309.0,149.9 1311.0,150.4 1313.0,150.9 1315.0,151.3 1317.0,151.7 1319.0,152.1 1321.0,152.5 1323.0,152.8 1325.0,153.3 1327.0,153.8 1329.0,154.4 1331.0,155.1 1333.0,155.9 1335.0,156.9 1337.0,158.0 1339.0,159.1 1341.0,160.3 1343.0,161.5 1345.0,162.7 1347.0,163.9 1349.0,165.0 1351.0,166.0 1353.0,167.0 1355.0,167.9 1357.0,168.7 1359.0,169.6 1361.0,170.3 1363.0,171.1 1365.0,171.8 1367.0,172.5 1369.0,173.2 1371.0,173.8 1373.0,174.4 1375.0,175.0 1377.0,175.5 1379.0,176.0 1381.0,176.3 1383.0,176.7 1385.0,176.9 1387.0,177.1 1389.0,177.3 1391.0,177.5 1393.0,177.6 1395.0,177.8 1397.0,178.0 1399.0,178.3 1401.0,178.6 1403.0,178.9 1405.0,179.4 1407.0,179.8 1409.0,180.3 1411.0,180.8 1413.0,181.3 1415.0,181.9 1417.0,182.4 1419.0,183.1 1421.0,183.7 1423.0,184.4 1425.0,185.1 1427.0,185.9 1429.0,186.7 1431.0,187.6 1433.0,188.5 1435.0,189.5 1437.0,190.6 1439.0,191.8 1441.0,193.0 1443.0,194.4 1445.0,195.7 1447.0,197.0 1449.0,198.3 1451.0,199.6 1453.0,200.9 1455.0,202.0 1457.0,203.1 1459.0,204.2 1461.0,205.3 1463.0,206.3 1465.0,207.3 1467.0,208.3 1469.0,209.2 1471.0,210.2 1473.0,211.1 1475.0,212.1 1477.0,213.0 1479.0,214.0 1481.0,215.0 1483.0,216.0 1485.0,217.1 1487.0,218.2 1489.0,219.3 1491.0,220.3 1493.0,221.1 1495.0,221.9 1497.0,222.5 1499.0,223.0 1501.0,223.4 1503.0,223.6 1505.0,223.8 1507.0,223.8 1509.0,223.5 1511.0,222.9 1513.0,222.2 1515.0,221.5 1517.0,220.7 1519.0,220.1 1521.0,219.7 1523.0,219.3 1525.0,219.0 1527.0,218.8 1529.0,218.6 1531.0,218.5 1533.0,218.3 1535.0,218.2 1537.0,218.1 1539.0,218.0 1541.0,217.9 1543.0,217.8 1545.0,217.6 1547.0,217.5 1549.0,217.4 1551.0,217.3 1553.0,217.3 1555.0,217.2 1557.0,217.3 1559.0,217.4 1561.0,217.5 1563.0,217.8 1565.0,218.1 1567.0,218.5 1569.0,219.0 1571.0,219.6 1573.0,220.3 1575.0,221.0 1577.0,221.8 1579.0,222.6 1581.0,223.4 1583.0,224.2 1585.0,225.0 1587.0,225.8 1589.0,226.6 1591.0,227.3 1593.0,228.1 1595.0,229.0 1597.0,229.8 1599.0,230.7 1601.0,231.5 1603.0,232.3 1605.0,233.0 1607.0,233.6 1609.0,234.1 1611.0,234.5 1613.0,234.7 1615.0,234.7 1617.0,234.7 1619.0,234.6 1621.0,234.5 1623.0,234.4 1625.0,234.4 1627.0,234.4 1629.0,234.7 1631.0,235.0 1633.0,235.4 1635.0,235.9 1637.0,236.4 1639.0,237.1 1641.0,237.8 1643.0,238.6 1645.0,239.5 1647.0,240.6 1649.0,241.8 1651.0,243.2 1653.0,244.6 1655.0,246.0 1657.0,247.4 1659.0,248.8 1659.0,248.8"/><polyline fill="none" stroke="#ff00ff" stroke-width="1" points="3.0,190.5 5.0,191.7 7.0,192.9 9.0,194.1 11.0,195.2 13.0,196.4 15.0,197.6 17.0,198.8 19.0,200.0 21.0,201.2 23.0,202.4 25.0,203.6 27.0,204.8 29.0,206.0 31.0,207.1 33.0,208.3 35.0,209.4 37.0,210.6 39.0,211.7 41.0,212.8 43.0,213.9 45.0,214.9 47.0,216.0 49.0,217.0 51.0,218.1 53.0,219.1 55.0,220.1 57.0,221.2 59.0,222.2 61.0,223.2 63.0,224.2 65.0,225.2 67.0,226.2 69.0,227.2 71.0,228.2 73.0,229.2 75.0,230.2 77.0,231.3 79.0,232.3 81.0,233.3 83.0,234.3 85.0,235.3 87.0,236.2 89.0,237.2 91.0,238.2 93.0,239.1 95.0,240.1 97.0,241.0 99.0,242.0 101.0,243.0 103.0,243.9 105.0,244.9 107.0,245.9 109.0,246.8 111.0,247.8 113.0,248.8 115.0,249.8 117.0,250.8 119.0,251.9 121.0,252.9 123.0,253.9 125.0,255.0 127.0,256.1 129.0,257.2 131.0,258.3 133.0,259.5 135.0,260.6 137.0,261.8 139.0,263.0 141.0,264.2 143.0,265.5 145.0,266.7 147.0,268.0 149.0,269.3 151.0,270.5 153.0,271.8 155.0,273.1 157.0,274.4 159.0,275.7 161.0,277.1 163.0,278.4 165.0,279.7 167.0,281.0 169.0,282.2 171.0,283.5 173.0,284.7 175.0,285.8 177.0,286.9 179.0,287.9 181.0,288.7 183.0,289.4 185.0,290.0 187.0,290.5 189.0,290.9 191.0,291.3 193.0,291.6 195.0,291.9 197.0,292.3 199.0,292.7 201.0,293.1 203.0,293.6 205.0,294.1 207.0,294.5 209.0,295.0 211.0,295.5 213.0,296.0 215.0,296.4 217.0,296.9 219.0,297.4 221.0,297.8 223.0,298.2 225.0,298.6 227.0,299.0 229.0,299.4 231.0,299.8 233.0,300.2 235.0,300.7 237.0,301.1 239.0,301.6 241.0,302.2 243.0,302.8 245.0,303.4 247.0,304.1 249.0,304.9 251.0,305.7 253.0,306.7 255.0,307.6 257.0,308.5 259.0,309.3 261.0,309.9 263.0,310.5 265.0,311.0 267.0,311.4 269.0,311.8 271.0,312.1 273.0,312.4 275.0,312.7 277.0,313.1 279.0,313.4 281.0,313.9 283.0,314.3 285.0,314.9 287.0,315.5 289.0,316.3 291.0,317.1 293.0,318.0 295.0,319.0 297.0,319.9 299.0,320.9 301.0,321.9 303.0,322.9 305.0,323.8 307.0,324.7 309.0,325.6 311.0,326.4 313.0,327.2 315.0,328.0 317.0,328.8 319.0,329.6 321.0,330.4 323.0,331.2 325.0,331.9 327.0,332.7 329.0,333.4 331.0,334.2 333.0,334.9 335.0,335.7 337.0,336.4 339.0,337.1 341.0,337.8 343.0,338.4 345.0,339.1 347.0,339.7 349.0,340.2 351.0,340.7 353.0,341.1 355.0,341.5 357.0,341.9 359.0,342.3 361.0,342.6 363.0,343.0 365.0,343.3 367.0,343.7 369.0,344.1 371.0,344.6 373.0,345.1 375.0,345.7 377.0,346.4 379.0,347.1 381.0,347.9 383.0,348.7 385.0,349.6 387.0,350.4 389.0,351.3 391.0,352.2 393.0,353.0 395.0,353.8 397.0,354.6 399.0,355.4 401.0,356.2 403.0,356.9 405.0,357.7 407.0,358.5 409.0,359.2 411.0,359.9 413.0,360.6 415.0,361.3 417.0,362.0 419.0,362.6 421.0,363.2 423.0,363.7 425.0,364.3 427.0,364.8 429.0,365.4 431.0,366.0 433.0,366.7 435.0,367.4 437.0,368.1 439.0,368.9 441.0,369.6 443.0,370.5 445.0,371.3 447.0,372.2 449.0,373.0 451.0,373.9 453.0,374.8 455.0,375.7 457.0,376.6 459.0,377.5 461.0,378.4 463.0,379.3 465.0,380.2 467.0,381.1 469.0,381.9 471.0,382.7 473.0,383.5 475.0,384.3 477.0,385.0 479.0,385.8 481.0,386.5 483.0,387.2 485.0,387.9 487.0,388.6 489.0,389.3 491.0,390.0 493.0,390.8 495.0,391.5 497.0,392.2 499.0,392.9 501.0,393.6 503.0,394.4 505.0,395.1 507.0,395.9 509.0,396.7 511.0,397.5 513.0,398.3 515.0,399.2 517.0,400.1 519.0,401.0 521.0,401.9 523.0,402.9 525.0,403.9 527.0,404.9 529.0,405.9 531.0,406.9 533.0,407.9 535.0,408.9 537.0,409.9 539.0,410.8 541.0,411.7 543.0,412.6 545.0,413.5 547.0,414.3 549.0,415.1 551.0,415.9 553.0,416.7 555.0,417.5 557.0,418.3 559.0,419.0 561.0,419.7 563.0,420.5 565.0,421.2 567.0,421.8 569.0,422.5 571.0,423.1 573.0,423.7 575.0,424.4 577.0,424.9 579.0,425.5 581.0,426.0 583.0,426.5 585.0,427.0 587.0,427.5 589.0,428.0 591.0,428.4 593.0,428.9 595.0,429.3 597.0,429.7 599.0,430.2 601.0,430.6 603.0,431.0 605.0,431.5 607.0,431.9 609.0,432.3 611.0,432.7 613.0,433.1 615.0,433.5 617.0,433.8 619.0,434.2 621.0,434.6 623.0,435.0 625.0,435.4 627.0,435.8 629.0,436.2 631.0,436.6 633.0,437.1 635.0,437.5 637.0,437.9 639.0,438.4 641.0,438.8 643.0,439.2 645.0,439.6 647.0,439.9 649.0,440.3 651.0,440.6 653.0,440.9 655.0,441.1 657.0,441.4 659.0,441.6 661.0,441.9 663.0,442.1 665.0,442.3 667.0,442.4 669.0,442.6 671.0,442.7 673.0,442.9 675.0,443.0 677.0,443.1 679.0,443.2 681.0,443.2 683.0,443.3 685.0,443.3 687.0,443.3 689.0,443.3 691.0,443.3 693.0,443.3 695.0,443.2 697.0,443.2 699.0,443.1 701.0,443.0 703.0,442.8 705.0,442.7 707.0,442.5 709.0,442.3 711.0,442.0 713.0,441.8 715.0,441.5 717.0,441.3 719.0,441.0 721.0,440.7 723.0,440.4 725.0,440.1 727.0,439.8 729.0,439.4 731.0,439.1 733.0,438.7 735.0,438.4 737.0,438.0 739.0,437.6 741.0,437.2 743.0,436.8 745.0,436.4 747.0,436.0 749.0,435.5 751.0,435.1 753.0,434.6 755.0,434.2 757.0,433.7 759.0,433.3 761.0,432.8 763.0,432.3 765.0,431.8 767.0,431.3 769.0,430.8 771.0,430.3 773.0,429.7 775.0,429.2 777.0,428.7 779.0,428.2 781.0,427.6 783.0,427.1 785.0,426.6 787.0,426.1 789.0,425.7 791.0,425.2 793.0,424.7 795.0,424.3 797.0,423.8 799.0,423.3 801.0,422.9 803.0,422.4 805.0,421.9 807.0,421.4 809.0,420.9 811.0,420.4 813.0,419.8 815.0,419.2 817.0,418.7 819.0,418.1 821.0,417.5 823.0,416.8 825.0,416.2 827.0,415.6 829.0,415.0 831.0,414.4 833.0,413.8 835.0,413.2 837.0,412.5 839.0,411.9 841.0,411.4 843.0,410.8 845.0,410.2 847.0,409.6 849.0,408.9 851.0,408.4 853.0,407.8 855.0,407.1 857.0,406.6 859.0,406.0 861.0,405.4 863.0,404.8 865.0,404.3 867.0,403.8 869.0,403.3 871.0,402.9 873.0,402.4 875.0,401.9 877.0,401.3 879.0,400.7 881.0,400.0 883.0,399.2 885.0,398.2 887.0,397.2 889.0,396.1 891.0,394.8 893.0,393.6 895.0,392.3 897.0,391.1 899.0,389.9 901.0,388.8 903.0,387.7 905.0,386.7 907.0,385.7 909.0,384.7 911.0,383.7 913.0,382.7 915.0,381.8 917.0,380.8 919.0,379.9 921.0,378.9 923.0,377.9 925.0,377.0 927.0,376.0 929.0,375.0 931.0,373.9 933.0,372.9 935.0,371.8 937.0,370.6 939.0,369.5 941.0,368.3 943.0,367.1 945.0,365.9 947.0,364.7 949.0,363.5 951.0,362.2 953.0,361.0 955.0,359.8 957.0,358.6 959.0,357.4 961.0,356.2 963.0,355.0 965.0,353.9 967.0,352.7 969.0,351.5 971.0,350.3 973.0,349.2 975.0,348.0 977.0,346.9 979.0,345.7 981.0,344.6 983.0,343.5 985.0,342.3 987.0,341.2 989.0,340.1 991.0,339.0 993.0,338.0 995.0,336.9 997.0,335.8 999.0,334.8 1001.0,333.7 1003.0,332.7 1005.0,331.6 1007.0,330.6 1009.0,329.6 1011.0,328.6 1013.0,327.6 1015.0,326.6 1017.0,325.6 1019.0,324.7 1021.0,323.7 1023.0,322.8 1025.0,321.9 1027.0,321.1 1029.0,320.3 1031.0,319.5 1033.0,318.7 1035.0,317.9 1037.0,317.2 1039.0,316.4 1041.0,315.7 1043.0,314.9 1045.0,314.1 1047.0,313.3 1049.0,312.5 1051.0,311.6 1053.0,310.7 1055.0,309.7 1057.0,308.8 1059.0,307.8 1061.0,306.8 1063.0,305.7 1065.0,304.7 1067.0,303.6 1069.0,302.5 1071.0,301.4 1073.0,300.3 1075.0,299.2 1077.0,298.0 1079.0,296.8 1081.0,295.6 1083.0,294.4 1085.0,293.1 1087.0,291.8 1089.0,290.5 1091.0,289.2 1093.0,287.8 1095.0,286.3 1097.0,284.8 1099.0,283.2 1101.0,281.6 1103.0,280.0 1105.0,278.3 1107.0,276.7 1109.0,275.1 1111.0,273.5 1113.0,271.9 1115.0,270.4 1117.0,268.9 1119.0,267.5 1121.0,266.2 1123.0,264.9 1125.0,263.7 1127.0,262.5 1129.0,261.3 1131.0,260.2 1133.0,259.1 1135.0,258.1 1137.0,257.0 1139.0,256.0 1141.0,255.0 1143.0,254.0 1145.0,253.1 1147.0,252.1 1149.0,251.1 1151.0,250.2 1153.0,249.2 1155.0,248.2 1157.0,247.3 1159.0,246.3 1161.0,245.4 1163.0,244.4 1165.0,243.5 1167.0,242.6 1169.0,241.7 1171.0,240.8 1173.0,239.9 1175.0,239.0 1177.0,238.1 1179.0,237.2 1181.0,236.3 1183.0,235.4 1185.0,234.5 1187.0,233.6 1189.0,232.7 1191.0,231.8 1193.0,231.0 1195.0,230.1 1197.0,229.2 1199.0,228.3 1201.0,227.5 1203.0,226.6 1205.0,225.7 1207.0,224.8 1209.0,224.0 1211.0,223.1 1213.0,222.2 1215.0,221.3 1217.0,220.4 1219.0,219.5 1221.0,218.6 1223.0,217.7 1225.0,216.9 1227.0,216.0 1229.0,215.1 1231.0,214.3 1233.0,213.5 1235.0,212.7 1237.0,211.9 1239.0,211.2 1241.0,210.4 1243.0,209.7 1245.0,208.9 1247.0,208.2 1249.0,207.4 1251.0,206.5 1253.0,205.7 1255.0,204.7 1257.0,203.8 1259.0,202.7 1261.0,201.6 1263.0,200.4 1265.0,199.3 1267.0,198.2 1269.0,197.2 1271.0,196.3 1273.0,195.4 1275.0,194.6 1277.0,193.9 1279.0,193.2 1281.0,192.5 1283.0,191.9 1285.0,191.2 1287.0,190.6 1289.0,190.0 1291.0,189.3 1293.0,188.7 1295.0,188.1 1297.0,187.5 1299.0,186.9 1301.0,186.4 1303.0,185.8 1305.0,185.3 1307.0,184.8 1309.0,184.2 1311.0,183.7 1313.0,183.2 1315.0,182.6 1317.0,182.1 1319.0,181.6 1321.0,181.0 1323.0,180.4 1325.0,179.9 1327.0,179.2 1329.0,178.6 1331.0,178.0 1333.0,177.3 1335.0,176.6 1337.0,175.9 1339.0,175.2 1341.0,174.5 1343.0,173.7 1345.0,173.0 1347.0,172.3 1349.0,171.6 1351.0,171.0 1353.0,170.3 1355.0,169.7 1357.0,169.2 1359.0,168.6 1361.0,168.1 1363.0,167.7 1365.0,167.2 1367.0,166.8 1369.0,166.4 1371.0,166.0 1373.0,165.6 1375.0,165.3 1377.0,164.9 1379.0,164.6 1381.0,164.3 1383.0,164.0 1385.0,163.7 1387.0,163.4 1389.0,163.1 1391.0,162.9 1393.0,162.7 1395.0,162.4 1397.0,162.2 1399.0,162.0 1401.0,161.9 1403.0,161.7 1405.0,161.5 1407.0,161.4 1409.0,161.3 1411.0,161.2 1413.0,161.1 1415.0,161.0 1417.0,160.9 1419.0,160.8 1421.0,160.8 1423.0,160.7 1425.0,160.6 1427.0,160.6 1429.0,160.6 1431.0,160.6 1433.0,160.7 1435.0,160.7 1437.0,160.8 1439.0,161.0 1441.0,161.1 1443.0,161.4 1445.0,161.6 1447.0,161.9 1449.0,162.3 1451.0,162.6 1453.0,163.0 1455.0,163.4 1457.0,163.8 1459.0,164.1 1461.0,164.5 1463.0,164.8 1465.0,165.1 1467.0,165.3 1469.0,165.6 1471.0,165.8 1473.0,166.0 1475.0,166.2 1477.0,166.4 1479.0,166.6 1481.0,166.8 1483.0,167.0 1485.0,167.1 1487.0,167.3 1489.0,167.5 1491.0,167.7 1493.0,167.8 1495.0,168.0 1497.0,168.2 1499.0,168.4 1501.0,168.6 1503.0,168.9 1505.0,169.1 1507.0,169.3 1509.0,169.5 1511.0,169.7 1513.0,169.9 1515.0,170.1 1517.0,170.3 1519.0,170.5 1521.0,170.8 1523.0,171.1 1525.0,171.4 1527.0,171.8 1529.0,172.1 1531.0,172.5 1533.0,172.9 1535.0,173.4 1537.0,173.8 1539.0,174.3 1541.0,174.8 1543.0,175.3 1545.0,175.9 1547.0,176.5 1549.0,177.1 1551.0,177.7 1553.0,178.3 1555.0,179.0 1557.0,179.8 1559.0,180.5 1561.0,181.3 1563.0,182.1 1565.0,183.0 1567.0,183.8 1569.0,184.7 1571.0,185.5 1573.0,186.4 1575.0,187.2 1577.0,188.0 1579.0,188.8 1581.0,189.6 1583.0,190.4 1585.0,191.2 1587.0,192.1 1589.0,192.9 1591.0,193.7 1593.0,194.5 1595.0,195.3 1597.0,196.1 1599.0,196.9 1601.0,197.6 1603.0,198.4 1605.0,199.1 1607.0,199.9 1609.0,200.6 1611.0,201.3 1613.0,202.0 1615.0,202.7 1617.0,203.4 1619.0,204.1 1621.0,204.8 1623.0,205.5 1625.0,206.1 1627.0,206.8 1629.0,207.3 1631.0,207.9 1633.0,208.4 1635.0,208.9 1637.0,209.5 1639.0,210.0 1641.0,210.6 1643.0,211.2 1645.0,211.9 1647.0,212.7 1649.0,213.5 1651.0,214.4 1653.0,215.3 1655.0,216.2 1657.0,217.1 1659.0,218.0 1659.0,218.0"/></g>
<rect x="3" y="73" width="1677" height="2" fill="#ff0000"/>
<rect x="3" y="197" width="1677" height="2" fill="#ff0000"/>
<rect x="3" y="306" width="1677" height="2" fill="#32cd32"/>
<rect x="3" y="431" width="1677" height="2" fill="#4169e1"/>
<rect x="3" y="571" width="1677" height="2" fill="#4169e1"/>
<rect x="2" y="195" width="6" height="6" fill="#ff0000"/>
<rect x="4" y="197" width="2" height="2" fill="#fff"/>
<rect x="1672" y="195" width="6" height="6" fill="#ff0000"/>
<rect x="1674" y="197" width="2" height="2" fill="#fff"/>
<rect x="2" y="304" width="6" height="6" fill="#32cd32"/>
<rect x="4" y="306" width="2" height="2" fill="#fff"/>
<rect x="1672" y="304" width="6" height="6" fill="#32cd32"/>
<rect x="1674" y="306" width="2" height="2" fill="#fff"/>
<rect x="2" y="569" width="6" height="6" fill="#4169e1"/>
<rect x="4" y="571" width="2" height="2" fill="#fff"/>
<rect x="1672" y="569" width="6" height="6" fill="#4169e1"/>
<rect x="1674" y="571" width="2" height="2" fill="#fff"/>
<g clip-path="url(#c2)">
<rect x="3" y="684" width="1" height="39" fill="#c0c0c0"/>
<rect x="11" y="684" width="1" height="40" fill="#c0c0c0"/>
<rect x="19" y="684" width="1" height="41" fill="#c0c0c0"/>
<rect x="27" y="684" width="1" height="39" fill="#c0c0c0"/>
<rect x="35" y="684" width="1" height="38" fill="#c0c0c0"/>
<rect x="43" y="684" width="1" height="39" fill="#c0c0c0"/>
<rect x="51" y="684" width="1" height="39" fill="#c0c0c0"/>
<rect x="59" y="684" width="1" height="41" fill="#c0c0c0"/>
<rect x="67" y="684" width="1" height="39" fill="#c0c0c0"/>
<rect x="75" y="684" width="1" height="33" fill="#c0c0c0"/>
<rect x="83" y="684" width="1" height="27" fill="#c0c0c0"/>
<rect x="91" y="684" width="1" height="24" fill="#c0c0c0"/>
<rect x="99" y="684" width="1" height="17" fill="#c0c0c0"/>
<rect x="107" y="684" width="1" height="14" fill="#c0c0c0"/>
<rect x="115" y="684" width="1" height="10" fill="#c0c0c0"/>
<rect x="123" y="684" width="1" height="8" fill="#c0c0c0"/>
<rect x="131" y="684" width="1" height="5" fill="#c0c0c0"/>
<rect x="139" y="684" width="1" height="2" fill="#c0c0c0"/>
<rect x="147" y="679" width="1" height="6" fill="#c0c0c0"/>
<rect x="155" y="678" width="1" height="7" fill="#c0c0c0"/>
<rect x="163" y="678" width="1" height="7" fill="#c0c0c0"/>
<rect x="171" y="676" width="1" height="9" fill="#c0c0c0"/>
<rect x="179" y="675" width="1" height="10" fill="#c0c0c0"/>
<rect x="187" y="673" width="1" height="12" fill="#c0c0c0"/>
<rect x="195" y="672" width="1" height="13" fill="#c0c0c0"/>
<rect x="203" y="676" width="1" height="9" fill="#c0c0c0"/>
<rect x="211" y="679" width="1" height="6" fill="#c0c0c0"/>
<rect x="219" y="684" width="1" height="3" fill="#c0c0c0"/>
<rect x="227" y="684" width="1" height="11" fill="#c0c0c0"/>
<rect x="235" y="684" width="1" height="18" fill="#c0c0c0"/>
<rect x="243" y="684" width="1" height="21" fill="#c0c0c0"/>
<rect x="251" y="684" width="1" height="22" fill="#c0c0c0"/>
<rect x="259" y="684" width="1" height="22" fill="#c0c0c0"/>
<rect x="267" y="684" width="1" height="25" fill="#c0c0c0"/>
<rect x="275" y="684" width="1" height="25" fill="#c0c0c0"/>
<rect x="283" y="684" width="1" height="24" fill="#c0c0c0"/>
<rect x="291" y="684" width="1" height="26" fill="#c0c0c0"/>
<rect x="299" y="684" width="1" height="31" fill="#c0c0c0"/>
<rect x="307" y="684" width="1" height="33" fill="#c0c0c0"/>
<rect x="315" y="684" width="1" height="35" fill="#c0c0c0"/>
<rect x="323" y="684" width="1" height="37" fill="#c0c0c0"/>
<rect x="331" y="684" width="1" height="43" fill="#c0c0c0"/>
<rect x="339" y="684" width="1" height="49" fill="#c0c0c0"/>
<rect x="347" y="684" width="1" height="58" fill="#c0c0c0"/>
<rect x="355" y="684" width="1" height="59" fill="#c0c0c0"/>
<rect x="363" y="684" width="1" height="57" fill="#c0c0c0"/>
<rect x="371" y="684" width="1" height="56" fill="#c0c0c0"/>
<rect x="379" y="684" width="1" height="57" fill="#c0c0c0"/>
<rect x="387" y="684" width="1" height="55" fill="#c0c0c0"/>
<rect x="395" y="684" width="1" height="54" fill="#c0c0c0"/>
<rect x="403" y="684" width="1" height="45" fill="#c0c0c0"/>
<rect x="411" y="684" width="1" height="39" fill="#c0c0c0"/>
<rect x="419" y="684" width="1" height="36" fill="#c0c0c0"/>
<rect x="427" y="684" width="1" height="30" fill="#c0c0c0"/>
<rect x="435" y="684" width="1" height="25" fill="#c0c0c0"/>
<rect x="443" y="684" width="1" height="27" fill="#c0c0c0"/>
<rect x="451" y="684" width="1" height="37" fill="#c0c0c0"/>
<rect x="459" y="684" width="1" height="43" fill="#c0c0c0"/>
<rect x="467" y="684" width="1" height="48" fill="#c0c0c0"/>
<rect x="475" y="684" width="1" height="50" fill="#c0c0c0"/>
<rect x="483" y="684" width="1" height="53" fill="#c0c0c0"/>
<rect x="491" y="684" width="1" height="50" fill="#c0c0c0"/>
<rect x="499" y="684" width="1" height="50" fill="#c0c0c0"/>
<rect x="507" y="684" width="1" height="45" fill="#c0c0c0"/>
<rect x="515" y="684" width="1" height="42" fill="#c0c0c0"/>
<rect x="523" y="684" width="1" height="41" fill="#c0c0c0"/>
<rect x="531" y="684" width="1" height="41" fill="#c0c0c0"/>
<rect x="539" y="684" width="1" height="39" fill="#c0c0c0"/>
<rect x="547" y="684" width="1" height="29" fill="#c0c0c0"/>
<rect x="555" y="684" width="1" height="20" fill="#c0c0c0"/>
<rect x="563" y="684" width="1" height="12" fill="#c0c0c0"/>
<rect x="571" y="684" width="1" height="6" fill="#c0c0c0"/>
<rect x="579" y="682" width="1" height="3" fill="#c0c0c0"/>
<rect x="587" y="674" width="1" height="11" fill="#c0c0c0"/>
<rect x="595" y="666" width="1" height="19" fill="#c0c0c0"/>
<rect x="603" y="659" width="1" height="26" fill="#c0c0c0"/>
<rect x="611" y="652" width="1" height="33" fill="#c0c0c0"/>
<rect x="619" y="647" width="1" height="38" fill="#c0c0c0"/>
<rect x="627" y="646" width="1" height="39" fill="#c0c0c0"/>
<rect x="635" y="645" width="1" height="40" fill="#c0c0c0"/>
<rect x="643" y="648" width="1" height="37" fill="#c0c0c0"/>
<rect x="651" y="651" width="1" height="34" fill="#c0c0c0"/>
<rect x="659" y="652" width="1" height="33" fill="#c0c0c0"/>
<rect x="667" y="655" width="1" height="30" fill="#c0c0c0"/>
<rect x="675" y="660" width="1" height="25" fill="#c0c0c0"/>
<rect x="683" y="663" width="1" height="22" fill="#c0c0c0"/>
<rect x="691" y="657" width="1" height="28" fill="#c0c0c0"/>
<rect x="699" y="655" width="1" height="30" fill="#c0c0c0"/>
<rect x="707" y="652" width="1" height="33" fill="#c0c0c0"/>
<rect x="715" y="649" width="1" height="36" fill="#c0c0c0"/>
<rect x="723" y="646" width="1" height="39" fill="#c0c0c0"/>
<rect x="731" y="643" width="1" height="42" fill="#c0c0c0"/>
<rect x="739" y="642" width="1" height="43" fill="#c0c0c0"/>
<rect x="747" y="643" width="1" height="42" fill="#c0c0c0"/>
<rect x="755" y="645" width="1" height="40" fill="#c0c0c0"/>
<rect x="763" y="648" width="1" height="37" fill="#c0c0c0"/>
<rect x="771" y="655" width="1" height="30" fill="#c0c0c0"/>
<rect x="779" y="664" width="1" height="21" fill="#c0c0c0"/>
<rect x="787" y="669" width="1" height="16" fill="#c0c0c0"/>
<rect x="795" y="671" width="1" height="14" fill="#c0c0c0"/>
<rect x="803" y="673" width="1" height="12" fill="#c0c0c0"/>
<rect x="811" y="671" width="1" height="14" fill="#c0c0c0"/>
<rect x="819" y="670" width="1" height="15" fill="#c0c0c0"/>
<rect x="827" y="670" width="1" height="15" fill="#c0c0c0"/>
<rect x="835" y="670" width="1" height="15" fill="#c0c0c0"/>
<rect x="843" y="665" width="1" height="20" fill="#c0c0c0"/>
<rect x="851" y="660" width="1" height="25" fill="#c0c0c0"/>
<rect x="859" y="657" width="1" height="28" fill="#c0c0c0"/>
<rect x="867" y="655" width="1" height="30" fill="#c0c0c0"/>
<rect x="875" y="654" width="1" height="31" fill="#c0c0c0"/>
<rect x="883" y="653" width="1" height="32" fill="#c0c0c0"/>
<rect x="891" y="653" width="1" height="32" fill="#c0c0c0"/>
<rect x="899" y="660" width="1" height="25" fill="#c0c0c0"/>
<rect x="907" y="667" width="1" height="18" fill="#c0c0c0"/>
<rect x="915" y="670" width="1" height="15" fill="#c0c0c0"/>
<rect x="923" y="670" width="1" height="15" fill="#c0c0c0"/>
<rect x="931" y="670" width="1" height="15" fill="#c0c0c0"/>
<rect x="939" y="667" width="1" height="18" fill="#c0c0c0"/>
<rect x="947" y="664" width="1" height="21" fill="#c0c0c0"/>
<rect x="955" y="659" width="1" height="26" fill="#c0c0c0"/>
<rect x="963" y="655" width="1" height="30" fill="#c0c0c0"/>
<rect x="971" y="652" width="1" height="33" fill="#c0c0c0"/>
<rect x="979" y="650" width="1" height="35" fill="#c0c0c0"/>
<rect x="987" y="648" width="1" height="37" fill="#c0c0c0"/>
<rect x="995" y="645" width="1" height="40" fill="#c0c0c0"/>
<rect x="1003" y="641" width="1" height="44" fill="#c0c0c0"/>
<rect x="1011" y="637" width="1" height="48" fill="#c0c0c0"/>
<rect x="1019" y="636" width="1" height="49" fill="#c0c0c0"/>
<rect x="1027" y="636" width="1" height="49" fill="#c0c0c0"/>
<rect x="1035" y="633" width="1" height="52" fill="#c0c0c0"/>
<rect x="1043" y="631" width="1" height="54" fill="#c0c0c0"/>
<rect x="1051" y="630" width="1" height="55" fill="#c0c0c0"/>
<rect x="1059" y="630" width="1" height="55" fill="#c0c0c0"/>
<rect x="1067" y="630" width="1" height="55" fill="#c0c0c0"/>
<rect x="1075" y="629" width="1" height="56" fill="#c0c0c0"/>
<rect x="1083" y="628" width="1" height="57" fill="#c0c0c0"/>
<rect x="1091" y="624" width="1" height="61" fill="#c0c0c0"/>
<rect x="1099" y="619" width="1" height="66" fill="#c0c0c0"/>
<rect x="1107" y="616" width="1" height="69" fill="#c0c0c0"/>
<rect x="1115" y="616" width="1" height="69" fill="#c0c0c0"/>
<rect x="1123" y="618" width="1" height="67" fill="#c0c0c0"/>
<rect x="1131" y="617" width="1" height="68" fill="#c0c0c0"/>
<rect x="1139" y="620" width="1" height="65" fill="#c0c0c0"/>
<rect x="1147" y="625" width="1" height="60" fill="#c0c0c0"/>
<rect x="1155" y="628" width="1" height="57" fill="#c0c0c0"/>
<rect x="1163" y="631" width="1" height="54" fill="#c0c0c0"/>
<rect x="1171" y="633" width="1" height="52" fill="#c0c0c0"/>
<rect x="1179" y="637" width="1" height="48" fill="#c0c0c0"/>
<rect x="1187" y="645" width="1" height="40" fill="#c0c0c0"/>
<rect x="1195" y="651" width="1" height="34" fill="#c0c0c0"/>
<rect x="1203" y="656" width="1" height="29" fill="#c0c0c0"/>
<rect x="1211" y="664" width="1" height="21" fill="#c0c0c0"/>
<rect x="1219" y="670" width="1" height="15" fill="#c0c0c0"/>
<rect x="1227" y="678" width="1" height="7" fill="#c0c0c0"/>
<rect x="1235" y="683" width="1" height="2" fill="#c0c0c0"/>
<rect x="1243" y="683" width="1" height="2" fill="#c0c0c0"/>
<rect x="1251" y="682" width="1" height="3" fill="#c0c0c0"/>
<rect x="1259" y="683" width="1" height="2" fill="#c0c0c0"/>
<rect x="1267" y="683" width="1" height="2" fill="#c0c0c0"/>
<rect x="1275" y="681" width="1" height="4" fill="#c0c0c0"/>
<rect x="1283" y="679" width="1" height="6" fill="#c0c0c0"/>
<rect x="1291" y="681" width="1" height="4" fill="#c0c0c0"/>
<rect x="1299" y="684" width="1" height="1" fill="#c0c0c0"/>
<rect x="1307" y="684" width="1" height="1" fill="#c0c0c0"/>
<rect x="1315" y="682" width="1" height="3" fill="#c0c0c0"/>
<rect x="1323" y="682" width="1" height="3" fill="#c0c0c0"/>
<rect x="1331" y="680" width="1" height="5" fill="#c0c0c0"/>
<rect x="1339" y="682" width="1" height="3" fill="#c0c0c0"/>
<rect x="1347" y="684" width="1" height="9" fill="#c0c0c0"/>
<rect x="1355" y="684" width="1" height="13" fill="#c0c0c0"/>
<rect x="1363" y="684" width="1" height="17" fill="#c0c0c0"/>
<rect x="1371" y="684" width="1" height="19" fill="#c0c0c0"/>
<rect x="1379" y="684" width="1" height="19" fill="#c0c0c0"/>
<rect x="1387" y="684" width="1" height="19" fill="#c0c0c0"/>
<rect x="1395" y="684" width="1" height="21" fill="#c0c0c0"/>
<rect x="1403" y="684" width="1" height="21" fill="#c0c0c0"/>
<rect x="1411" y="684" width="1" height="19" fill="#c0c0c0"/>
<rect x="1419" y="684" width="1" height="19" fill="#c0c0c0"/>
<rect x="1427" y="684" width="1" height="21" fill="#c0c0c0"/>
<rect x="1435" y="684" width="1" height="21" fill="#c0c0c0"/>
<rect x="1443" y="684" width="1" height="22" fill="#c0c0c0"/>
<rect x="1451" y="684" width="1" height="25" fill="#c0c0c0"/>
<rect x="1459" y="684" width="1" height="29" fill="#c0c0c0"/>
<rect x="1467" y="684" width="1" height="29" fill="#c0c0c0"/>
<rect x="1475" y="684" width="1" height="27" fill="#c0c0c0"/>
<rect x="1483" y="684" width="1" height="26" fill="#c0c0c0"/>
<rect x="1491" y="684" width="1" height="21" fill="#c0c0c0"/>
<rect x="1499" y="684" width="1" height="17" fill="#c0c0c0"/>
<rect x="1507" y="684" width="1" height="13" fill="#c0c0c0"/>
<rect x="1515" y="684" width="1" height="9" fill="#c0c0c0"/>
<rect x="1523" y="684" width="1" height="5" fill="#c0c0c0"/>
<rect x="1531" y="684" width="1" height="5" fill="#c0c0c0"/>
<rect x="1539" y="684" width="1" height="2" fill="#c0c0c0"/>
<rect x="1547" y="684" width="1" height="1" fill="#c0c0c0"/>
<rect x="1555" y="684" width="1" height="2" fill="#c0c0c0"/>
<rect x="1563" y="684" width="1" height="4" fill="#c0c0c0"/>
<rect x="1571" y="684" width="1" height="7" fill="#c0c0c0"/>
<rect x="1579" y="684" width="1" height="10" fill="#c0c0c0"/>
<rect x="1587" y="684" width="1" height="19" fill="#c0c0c0"/>
<rect x="1595" y="684" width="1" height="23" fill="#c0c0c0"/>
<rect x="1603" y="684" width="1" height="25" fill="#c0c0c0"/>
<rect x="1611" y="684" width="1" height="27" fill="#c0c0c0"/>
<rect x="1619" y="684" width="1" height="27" fill="#c0c0c0"/>
<rect x="1627" y="684" width="1" height="25" fill="#c0c0c0"/>
<rect x="1635" y="684" width="1" height="25" fill="#c0c0c0"/>
<rect x="1643" y="684" width="1" height="29" fill="#c0c0c0"/>
<rect x="1651" y="684" width="1" height="33" fill="#c0c0c0"/>
<rect x="1659" y="684" width="1" height="37" fill="#c0c0c0"/>
<polyline fill="none" stroke="#ff0000" stroke-width="1" stroke-dasharray="3 3" points="3.5,731.7 11.5,729.3 19.5,727.4 27.5,725.6 35.5,724.3 43.5,723.5 51.5,723.1 59.5,723.1 67.5,723.0 75.5,722.3 83.5,720.9 91.5,718.9 99.5,716.4 107.5,713.7 115.5,710.6 123.5,707.1 131.5,703.0 139.5,698.9 147.5,694.8 155.5,691.3 163.5,688.2 171.5,685.5 179.5,683.1 187.5,680.9 195.5,678.8 203.5,677.5 211.5,676.8 219.5,677.6 227.5,679.3 235.5,681.8 243.5,684.9 251.5,688.3 259.5,691.8 267.5,695.7 275.5,699.3 283.5,702.4 291.5,705.0 299.5,707.1 307.5,708.8 315.5,710.3 323.5,712.0 331.5,714.3 339.5,717.0 347.5,720.6 355.5,724.5 363.5,728.0 371.5,730.8 379.5,733.5 387.5,735.8 395.5,737.7 403.5,738.0 411.5,736.9 419.5,734.5 427.5,731.4 435.5,727.8 443.5,724.6 451.5,722.4 459.5,721.0 467.5,720.3 475.5,720.8 483.5,722.3 491.5,723.9 499.5,726.1 507.5,728.3 515.5,729.9 523.5,730.4 531.5,730.2 539.5,729.2 547.5,726.8 555.5,723.2 563.5,718.9 571.5,714.0 579.5,708.9 587.5,703.2 595.5,696.8 603.5,689.5 611.5,681.8 619.5,674.6 627.5,668.3 635.5,662.8 643.5,658.2 651.5,654.7 659.5,652.2 667.5,651.0 675.5,651.1 683.5,652.4 691.5,653.5 699.5,654.5 707.5,655.2 715.5,655.4 723.5,654.8 731.5,653.8 739.5,652.4 747.5,650.5 755.5,648.5 763.5,647.5 771.5,647.5 779.5,648.8 787.5,651.1 795.5,653.8 803.5,657.2 811.5,660.4 819.5,663.4 827.5,666.2 835.5,668.6 843.5,669.7 851.5,669.3 859.5,667.9 867.5,666.2 875.5,664.1 883.5,662.1 891.5,660.2 899.5,659.1 907.5,658.7 915.5,659.3 923.5,660.4 931.5,661.8 939.5,663.2 947.5,664.3 955.5,664.9 963.5,665.2 971.5,664.3 979.5,662.4 987.5,659.9 995.5,657.2 1003.5,653.9 1011.5,650.6 1019.5,647.5 1027.5,644.9 1035.5,642.5 1043.5,640.2 1051.5,637.9 1059.5,635.9 1067.5,634.3 1075.5,632.9 1083.5,631.9 1091.5,630.6 1099.5,628.7 1107.5,626.8 1115.5,625.2 1123.5,623.8 1131.5,622.4 1139.5,621.3 1147.5,620.8 1155.5,620.8 1163.5,621.6 1171.5,623.2 1179.5,625.5 1187.5,628.7 1195.5,632.4 1203.5,636.7 1211.5,641.6 1219.5,646.6 1227.5,652.2 1235.5,657.9 1243.5,663.5 1251.5,668.5 1259.5,672.8 1267.5,676.3 1275.5,679.1 1283.5,680.8 1291.5,682.0 1299.5,682.6 1307.5,682.7 1315.5,682.6 1323.5,682.5 1331.5,682.2 1339.5,682.2 1347.5,683.4 1355.5,685.2 1363.5,687.3 1371.5,689.3 1379.5,691.3 1387.5,693.5 1395.5,696.0 1403.5,698.6 1411.5,700.8 1419.5,702.0 1427.5,702.8 1435.5,703.4 1443.5,703.7 1451.5,704.5 1459.5,705.5 1467.5,706.3 1475.5,707.0 1483.5,707.8 1491.5,708.0 1499.5,707.6 1507.5,706.6 1515.5,705.1 1523.5,702.9 1531.5,700.2 1539.5,697.2 1547.5,694.4 1555.5,691.7 1563.5,689.8 1571.5,688.7 1579.5,688.5 1587.5,689.6 1595.5,691.6 1603.5,693.9 1611.5,696.7 1619.5,699.5 1627.5,702.1 1635.5,704.5 1643.5,706.9 1651.5,709.4 1659.5,711.4"/>
</g>
<text x="7" y="620" font-size="10" fill="#000" textLength="143.5" lengthAdjust="spacingAndGlyphs">MACD(12,26,9) -17.7959 -13.6025</text>
<g clip-path="url(#c3)">
<line x1="4" x2="1678" y1="788.5" y2="788.5" stroke="#c0c0c0" stroke-width="1" stroke-dasharray="3 3"/>
<line x1="4" x2="1678" y1="835.5" y2="835.5" stroke="#c0c0c0" stroke-width="1" stroke-dasharray="3 3"/>
<polyline fill="none" stroke="#1e90ff" stroke-width="1" points="3.5,827.8 11.5,825.8 19.5,821.8 27.5,820.8 35.5,819.8 43.5,823.2 51.5,825.8 59.5,827.2 67.5,817.8 75.5,813.8 83.5,811.8 91.5,815.2 99.5,807.2 107.5,811.8 115.5,810.8 123.5,809.8 131.5,808.8 139.5,803.8 147.5,801.8 155.5,806.5 163.5,810.8 171.5,806.8 179.5,806.8 187.5,802.5 195.5,805.8 203.5,817.8 211.5,815.8 219.5,826.8 227.5,830.2 235.5,828.8 243.5,825.8 251.5,822.8 259.5,822.8 267.5,824.2 275.5,823.2 283.5,819.8 291.5,826.8 299.5,833.8 307.5,828.8 315.5,829.8 323.5,830.8 331.5,837.8 339.5,841.5 347.5,845.8 355.5,830.8 363.5,825.8 371.5,827.8 379.5,829.8 387.5,827.8 395.5,825.8 403.5,814.8 411.5,814.8 419.5,816.8 427.5,812.8 435.5,812.8 443.5,823.8 451.5,834.8 459.5,837.2 467.5,831.8 475.5,830.5 483.5,832.8 491.5,822.8 499.5,826.2 507.5,818.8 515.5,820.2 523.5,823.8 531.5,826.2 539.5,819.8 547.5,805.8 555.5,807.2 563.5,803.8 571.5,802.5 579.5,800.2 587.5,795.2 595.5,793.5 603.5,792.8 611.5,789.8 619.5,789.8 627.5,796.8 635.5,797.2 643.5,805.8 651.5,804.5 659.5,800.8 667.5,809.2 675.5,813.8 683.5,810.5 691.5,795.2 699.5,800.8 707.5,798.5 715.5,796.8 723.5,794.8 731.5,792.8 739.5,798.5 747.5,799.8 755.5,800.5 763.5,802.5 771.5,816.2 779.5,820.5 787.5,815.8 795.5,811.8 803.5,811.8 811.5,803.8 819.5,805.8 827.5,807.8 835.5,805.2 843.5,798.5 851.5,794.8 859.5,798.8 867.5,797.2 875.5,800.8 883.5,797.5 891.5,800.5 899.5,815.5 907.5,817.8 915.5,814.5 923.5,807.8 931.5,805.5 939.5,800.8 947.5,797.5 955.5,795.8 963.5,794.5 971.5,792.8 979.5,794.8 987.5,793.5 995.5,789.8 1003.5,785.8 1011.5,784.5 1019.5,788.5 1027.5,788.8 1035.5,783.8 1043.5,784.5 1051.5,783.8 1059.5,786.8 1067.5,784.5 1075.5,783.5 1083.5,780.8 1091.5,774.8 1099.5,773.5 1107.5,772.8 1115.5,781.8 1123.5,786.8 1131.5,782.8 1139.5,790.8 1147.5,798.8 1155.5,796.8 1163.5,793.8 1171.5,793.8 1179.5,802.8 1187.5,811.8 1195.5,812.8 1203.5,810.8 1211.5,818.5 1219.5,820.8 1227.5,826.8 1235.5,820.5 1243.5,811.8 1251.5,808.8 1259.5,812.8 1267.5,811.8 1275.5,809.8 1283.5,803.8 1291.5,813.8 1299.5,818.8 1307.5,811.8 1315.5,808.8 1323.5,807.8 1331.5,806.8 1339.5,818.8 1347.5,830.8 1355.5,822.8 1363.5,823.8 1371.5,821.8 1379.5,820.8 1387.5,821.8 1395.5,823.8 1403.5,818.8 1411.5,814.8 1419.5,819.8 1427.5,823.8 1435.5,822.8 1443.5,823.8 1451.5,828.5 1459.5,830.8 1467.5,823.8 1475.5,819.8 1483.5,820.8 1491.5,810.8 1499.5,808.8 1507.5,807.8 1515.5,806.8 1523.5,804.8 1531.5,813.8 1539.5,806.8 1547.5,810.8 1555.5,815.8 1563.5,817.8 1571.5,824.8 1579.5,823.8 1587.5,832.8 1595.5,828.8 1603.5,829.8 1611.5,826.8 1619.5,823.5 1627.5,819.8 1635.5,824.8 1643.5,829.5 1651.5,833.8 1659.5,835.5"/>
</g>
<text x="7" y="764" font-size="10" fill="#000" textLength="68" lengthAdjust="spacingAndGlyphs">RSI(14) 30.8728</text>
<rect x="1679" y="41" width="2" height="1" fill="#000"/>
<text x="1684" y="45" font-size="10" fill="#000" textLength="38" lengthAdjust="spacingAndGlyphs">3551.410</text>
<rect x="1679" y="107" width="2" height="1" fill="#000"/>
<text x="1684" y="111" font-size="10" fill="#000" textLength="38" lengthAdjust="spacingAndGlyphs">3508.530</text>
<rect x="1679" y="140" width="2" height="1" fill="#000"/>
<text x="1684" y="144" font-size="10" fill="#000" textLength="38" lengthAdjust="spacingAndGlyphs">3487.410</text>
<rect x="1679" y="173" width="2" height="1" fill="#000"/>
<text x="1684" y="177" font-size="10" fill="#000" textLength="38" lengthAdjust="spacingAndGlyphs">3466.290</text>
<rect x="1679" y="206" width="2" height="1" fill="#000"/>
<text x="1684" y="210" font-size="10" fill="#000" textLength="38" lengthAdjust="spacingAndGlyphs">3445.170</text>
<rect x="1679" y="239" width="2" height="1" fill="#000"/>
<text x="1684" y="243" font-size="10" fill="#000" textLength="38" lengthAdjust="spacingAndGlyphs">3424.050</text>
<rect x="1679" y="272" width="2" height="1" fill="#000"/>
<text x="1684" y="276" font-size="10" fill="#000" textLength="38" lengthAdjust="spacingAndGlyphs">3402.930</text>
<rect x="1679" y="338" width="2" height="1" fill="#000"/>
<text x="1684" y="342" font-size="10" fill="#000" textLength="38" lengthAdjust="spacingAndGlyphs">3360.690</text>
<rect x="1679" y="371" width="2" height="1" fill="#000"/>
<text x="1684" y="375" font-size="10" fill="#000" textLength="38" lengthAdjust="spacingAndGlyphs">3338.930</text>
<rect x="1679" y="404" width="2" height="1" fill="#000"/>
<text x="1684" y="408" font-size="10" fill="#000" textLength="38" lengthAdjust="spacingAndGlyphs">3317.810</text>
<rect x="1679" y="437" width="2" height="1" fill="#000"/>
<text x="1684" y="441" font-size="10" fill="#000" textLength="38" lengthAdjust="spacingAndGlyphs">3296.690</text>
<rect x="1679" y="470" width="2" height="1" fill="#000"/>
<text x="1684" y="474" font-size="10" fill="#000" textLength="38" lengthAdjust="spacingAndGlyphs">3275.570</text>
<rect x="1679" y="503" width="2" height="1" fill="#000"/>
<text x="1684" y="507" font-size="10" fill="#000" textLength="38" lengthAdjust="spacingAndGlyphs">3254.450</text>
<rect x="1679" y="536" width="2" height="1" fill="#000"/>
<text x="1684" y="540" font-size="10" fill="#000" textLength="38" lengthAdjust="spacingAndGlyphs">3233.330</text>
<rect x="1679" y="602" width="2" height="1" fill="#000"/>
<text x="1684" y="606" font-size="10" fill="#000" textLength="38" lengthAdjust="spacingAndGlyphs">3191.090</text>
<rect x="1680" y="328" width="46" height="11" fill="#000"/>
<text x="1684" y="337" font-size="10" fill="#fff" textLength="38" lengthAdjust="spacingAndGlyphs">3363.500</text>
<rect x="1680" y="68" width="46" height="11" fill="#ff0000"/>
<text x="1684" y="77" font-size="10" fill="#fff" textLength="38" lengthAdjust="spacingAndGlyphs">3530.000</text>
<rect x="1680" y="192" width="46" height="11" fill="#ff0000"/>
<text x="1684" y="201" font-size="10" fill="#fff" textLength="38" lengthAdjust="spacingAndGlyphs">3450.000</text>
<rect x="1680" y="301" width="46" height="11" fill="#32cd32"/>
<text x="1684" y="310" font-size="10" fill="#fff" textLength="38" lengthAdjust="spacingAndGlyphs">3380.000</text>
<rect x="1680" y="426" width="46" height="11" fill="#4169e1"/>
<text x="1684" y="435" font-size="10" fill="#fff" textLength="38" lengthAdjust="spacingAndGlyphs">3300.000</text>
<rect x="1680" y="566" width="46" height="11" fill="#4169e1"/>
<text x="1684" y="575" font-size="10" fill="#fff" textLength="38" lengthAdjust="spacingAndGlyphs">3210.000</text>
<rect x="1679" y="609" width="1" height="1" fill="#000"/>
<text x="1682" y="618" font-size="10" fill="#000" textLength="33" lengthAdjust="spacingAndGlyphs">37.0468</text>
<rect x="1679" y="684" width="2" height="1" fill="#000"/>
<text x="1682" y="688" font-size="10" fill="#000" textLength="19" lengthAdjust="spacingAndGlyphs">0.00</text>
<rect x="1679" y="748" width="1" height="1" fill="#000"/>
<rect x="1679" y="753" width="1" height="1" fill="#000"/>
<text x="1682" y="746" font-size="10" fill="#000" textLength="36" lengthAdjust="spacingAndGlyphs">-31.9477</text>
<text x="1682" y="761.5" font-size="10" fill="#000" textLength="15" lengthAdjust="spacingAndGlyphs">100</text>
<text x="1682" y="792" font-size="10" fill="#000" textLength="9.3" lengthAdjust="spacingAndGlyphs">70</text>
<text x="1682" y="838.5" font-size="10" fill="#000" textLength="9.3" lengthAdjust="spacingAndGlyphs">30</text>
<text x="1682" y="867.5" font-size="10" fill="#000" textLength="5" lengthAdjust="spacingAndGlyphs">0</text>
<rect x="3" y="872" width="1" height="3" fill="#000"/>
<text x="2.5" y="884" font-size="10" fill="#000" textLength="51" lengthAdjust="spacingAndGlyphs">10 Sep 2020</text>
<rect x="67" y="872" width="1" height="3" fill="#000"/>
<text x="66.5" y="884" font-size="10" fill="#000" textLength="54.5" lengthAdjust="spacingAndGlyphs">13 Sep 23:00</text>
<rect x="131" y="872" width="1" height="3" fill="#000"/>
<text x="130.5" y="884" font-size="10" fill="#000" textLength="54.5" lengthAdjust="spacingAndGlyphs">15 Sep 04:00</text>
<rect x="195" y="872" width="1" height="3" fill="#000"/>
<text x="194.5" y="884" font-size="10" fill="#000" textLength="54.5" lengthAdjust="spacingAndGlyphs">16 Sep 12:00</text>
<rect x="259" y="872" width="1" height="3" fill="#000"/>
<text x="258.5" y="884" font-size="10" fill="#000" textLength="54.5" lengthAdjust="spacingAndGlyphs">17 Sep 20:00</text>
<rect x="323" y="872" width="1" height="3" fill="#000"/>
<text x="322.5" y="884" font-size="10" fill="#000" textLength="54.5" lengthAdjust="spacingAndGlyphs">21 Sep 00:00</text>
<rect x="387" y="872" width="1" height="3" fill="#000"/>
<text x="386.5" y="884" font-size="10" fill="#000" textLength="54.5" lengthAdjust="spacingAndGlyphs">22 Sep 08:00</text>
<rect x="451" y="872" width="1" height="3" fill="#000"/>
<text x="450.5" y="884" font-size="10" fill="#000" textLength="54.5" lengthAdjust="spacingAndGlyphs">23 Sep 16:00</text>
<rect x="515" y="872" width="1" height="3" fill="#000"/>
<text x="514.5" y="884" font-size="10" fill="#000" textLength="54.5" lengthAdjust="spacingAndGlyphs">25 Sep 00:00</text>
<rect x="579" y="872" width="1" height="3" fill="#000"/>
<text x="578.5" y="884" font-size="10" fill="#000" textLength="54.5" lengthAdjust="spacingAndGlyphs">28 Sep 04:00</text>
<rect x="643" y="872" width="1" height="3" fill="#000"/>
<text x="642.5" y="884" font-size="10" fill="#000" textLength="54.5" lengthAdjust="spacingAndGlyphs">29 Sep 12:00</text>
<rect x="707" y="872" width="1" height="3" fill="#000"/>
<text x="706.5" y="884" font-size="10" fill="#000" textLength="54.5" lengthAdjust="spacingAndGlyphs">30 Sep 20:00</text>
<rect x="771" y="872" width="1" height="3" fill="#000"/>
<text x="770.5" y="884" font-size="10" fill="#000" textLength="48.5" lengthAdjust="spacingAndGlyphs">2 Oct 04:00</text>
<rect x="835" y="872" width="1" height="3" fill="#000"/>
<text x="834.5" y="884" font-size="10" fill="#000" textLength="48.5" lengthAdjust="spacingAndGlyphs">5 Oct 08:00</text>
<rect x="899" y="872" width="1" height="3" fill="#000"/>
<text x="898.5" y="884" font-size="10" fill="#000" textLength="48.5" lengthAdjust="spacingAndGlyphs">6 Oct 16:00</text>
<rect x="963" y="872" width="1" height="3" fill="#000"/>
<text x="962.5" y="884" font-size="10" fill="#000" textLength="48.5" lengthAdjust="spacingAndGlyphs">8 Oct 00:00</text>
<rect x="1027" y="872" width="1" height="3" fill="#000"/>
<text x="1026.5" y="884" font-size="10" fill="#000" textLength="48.5" lengthAdjust="spacingAndGlyphs">9 Oct 08:00</text>
<rect x="1091" y="872" width="1" height="3" fill="#000"/>
<text x="1090.5" y="884" font-size="10" fill="#000" textLength="53.2" lengthAdjust="spacingAndGlyphs">12 Oct 12:00</text>
<rect x="1155" y="872" width="1" height="3" fill="#000"/>
<text x="1154.5" y="884" font-size="10" fill="#000" textLength="53.2" lengthAdjust="spacingAndGlyphs">13 Oct 20:00</text>
<rect x="1219" y="872" width="1" height="3" fill="#000"/>
<text x="1218.5" y="884" font-size="10" fill="#000" textLength="53.2" lengthAdjust="spacingAndGlyphs">15 Oct 04:00</text>
<rect x="1283" y="872" width="1" height="3" fill="#000"/>
<text x="1282.5" y="884" font-size="10" fill="#000" textLength="53.2" lengthAdjust="spacingAndGlyphs">16 Oct 12:00</text>
<rect x="1347" y="872" width="1" height="3" fill="#000"/>
<text x="1346.5" y="884" font-size="10" fill="#000" textLength="53.2" lengthAdjust="spacingAndGlyphs">19 Oct 16:00</text>
<rect x="1411" y="872" width="1" height="3" fill="#000"/>
<text x="1410.5" y="884" font-size="10" fill="#000" textLength="53.2" lengthAdjust="spacingAndGlyphs">21 Oct 00:00</text>
<rect x="1475" y="872" width="1" height="3" fill="#000"/>
<text x="1474.5" y="884" font-size="10" fill="#000" textLength="53.2" lengthAdjust="spacingAndGlyphs">22 Oct 08:00</text>
<rect x="1539" y="872" width="1" height="3" fill="#000"/>
<text x="1538.5" y="884" font-size="10" fill="#000" textLength="53.2" lengthAdjust="spacingAndGlyphs">23 Oct 16:00</text>
<rect x="1603" y="872" width="1" height="3" fill="#000"/>
<text x="1602.5" y="884" font-size="10" fill="#000" textLength="53.2" lengthAdjust="spacingAndGlyphs">26 Oct 20:00</text>
<path d="M6,35 L13,35 L9.5,39 Z" fill="#000" shape-rendering="geometricPrecision"/>
<text x="18" y="41" font-size="10" fill="#000" textLength="212" lengthAdjust="spacingAndGlyphs" xml:space="preserve">SP500-,H4&#160;&#160;3365.500 3366.500 3361.750 3363.500</text>
<text x="1245.5" y="394.8" font-size="34" fill="#ee1c25" textLength="244" lengthAdjust="spacingAndGlyphs" style="font-family:'Liberation Sans','Noto Sans CJK SC',sans-serif">多空转折点3380</text>
</svg></body></html>
